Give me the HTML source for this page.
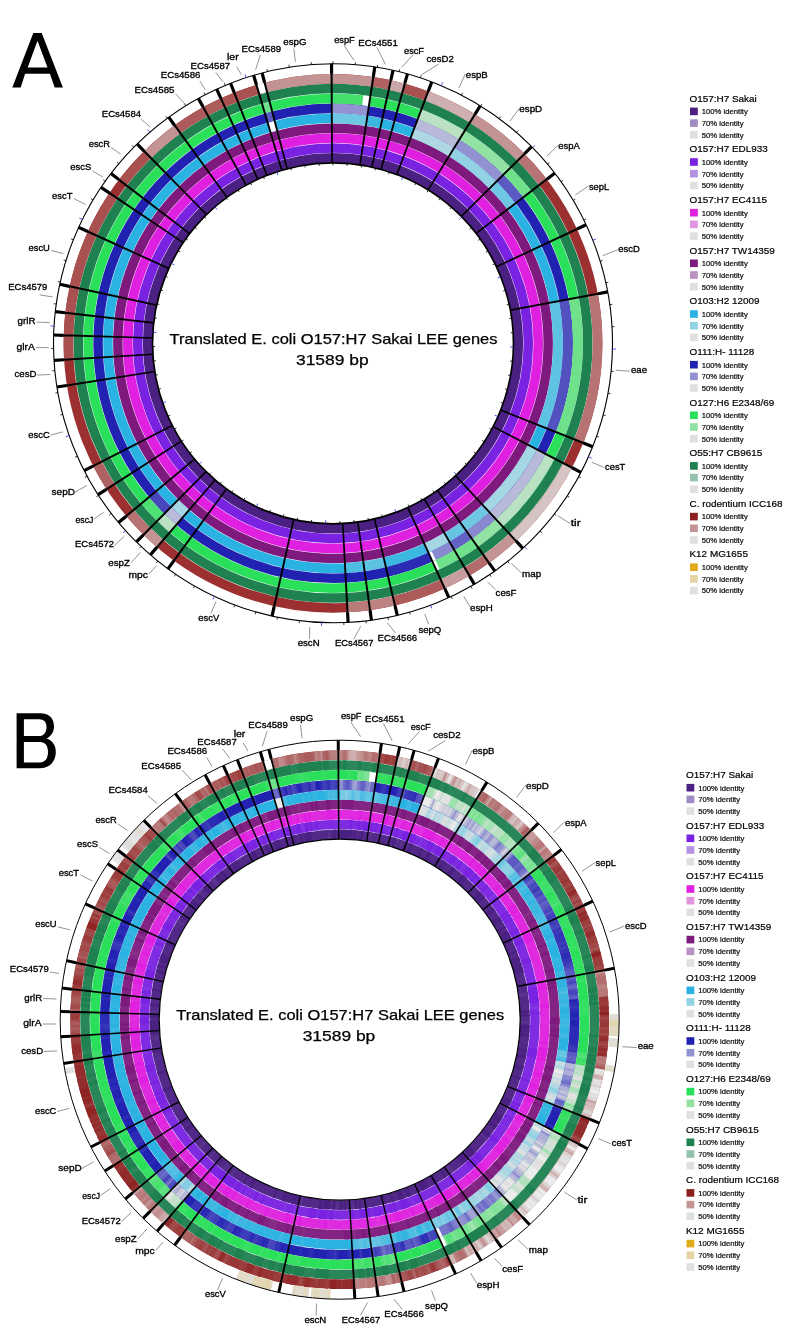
<!DOCTYPE html>
<html><head><meta charset="utf-8"><title>BRIG LEE comparison</title>
<style>
html,body{margin:0;padding:0;background:#fff;}
body{width:785px;height:1337px;overflow:hidden;}
svg{display:block;filter:blur(0.3px);}
text{font-family:"Liberation Sans",sans-serif;fill:#000;}
.li{fill:#111;stroke:#111;stroke-width:0.22px;}
.lt{stroke:#000;stroke-width:0.2px;}
.gl{stroke:#000;stroke-width:0.32px;}
.ct{stroke:#000;stroke-width:0.25px;}
</style></head><body>
<svg width="785" height="1337" viewBox="0 0 785 1337">
<rect width="785" height="1337" fill="#fff"/>
<path fill-rule="evenodd" d="M12.3,87.5L33.3,33.06L41.7,33.06L62.9,87.5L54.7,87.5L49.9,73.7L25.1,73.7L20.7,87.5ZM27.7,67.45L37.5,40.7L47.5,67.45Z" fill="#000"/>
<circle cx="333.00" cy="343.30" r="185.45" fill="none" stroke="#4b2083" stroke-width="9.48"/>
<circle cx="333.00" cy="343.30" r="195.35" fill="none" stroke="#7a22e2" stroke-width="9.48"/>
<circle cx="333.00" cy="343.30" r="205.25" fill="none" stroke="#e020e0" stroke-width="9.48"/>
<circle cx="333.00" cy="343.30" r="215.15" fill="none" stroke="#7e1a7e" stroke-width="9.48"/>
<circle cx="333.00" cy="343.30" r="225.05" fill="none" stroke="#2ab2e2" stroke-width="9.48"/>
<circle cx="333.00" cy="343.30" r="225.05" fill="none" stroke="#6fc7e3" stroke-width="9.48" pathLength="360" stroke-dasharray="0 0.00 9.02 36.58 7.32 84.58 7.52 214.98 0" transform="rotate(-90.30 333.00 343.30)"/>
<circle cx="333.00" cy="343.30" r="225.05" fill="none" stroke="#3bb7e2" stroke-width="9.48" pathLength="360" stroke-dasharray="0 8.90 3.92 142.98 11.32 192.88 0" transform="rotate(-90.30 333.00 343.30)"/>
<circle cx="333.00" cy="343.30" r="225.05" fill="none" stroke="#afd7e2" stroke-width="9.48" pathLength="360" stroke-dasharray="0 21.00 11.22 327.78 0" transform="rotate(-90.30 333.00 343.30)"/>
<circle cx="333.00" cy="343.30" r="225.05" fill="none" stroke="#92d2e4" stroke-width="9.48" pathLength="360" stroke-dasharray="0 32.10 13.62 314.28 0" transform="rotate(-90.30 333.00 343.30)"/>
<circle cx="333.00" cy="343.30" r="225.05" fill="none" stroke="#5ec2e3" stroke-width="9.48" pathLength="360" stroke-dasharray="0 79.70 32.42 54.88 5.52 187.48 0" transform="rotate(-90.30 333.00 343.30)"/>
<circle cx="333.00" cy="343.30" r="225.05" fill="none" stroke="#a5d6e3" stroke-width="9.48" pathLength="360" stroke-dasharray="0 117.80 19.82 12.28 6.02 65.18 4.02 134.88 0" transform="rotate(-90.30 333.00 343.30)"/>
<circle cx="333.00" cy="343.30" r="225.05" fill="none" stroke="#67c5e3" stroke-width="9.48" pathLength="360" stroke-dasharray="0 144.90 5.12 209.98 0" transform="rotate(-90.30 333.00 343.30)"/>
<circle cx="333.00" cy="343.30" r="225.05" fill="none" stroke="#4dbde3" stroke-width="9.48" pathLength="360" stroke-dasharray="0 172.40 4.92 182.68 0" transform="rotate(-90.30 333.00 343.30)"/>
<circle cx="333.00" cy="343.30" r="225.05" fill="none" stroke="#ffffff" stroke-width="9.48" pathLength="360" stroke-dasharray="0 343.80 1.92 14.28 0" transform="rotate(-90.30 333.00 343.30)"/>
<circle cx="333.00" cy="343.30" r="234.95" fill="none" stroke="#2222b2" stroke-width="9.48"/>
<circle cx="333.00" cy="343.30" r="234.95" fill="none" stroke="#9292d2" stroke-width="9.48" pathLength="360" stroke-dasharray="0 0.00 9.02 23.08 13.62 314.28 0" transform="rotate(-90.30 333.00 343.30)"/>
<circle cx="333.00" cy="343.30" r="234.95" fill="none" stroke="#b9b9d9" stroke-width="9.48" pathLength="360" stroke-dasharray="0 21.00 11.22 85.58 19.82 83.48 4.02 134.88 0" transform="rotate(-90.30 333.00 343.30)"/>
<circle cx="333.00" cy="343.30" r="234.95" fill="none" stroke="#5a5ac2" stroke-width="9.48" pathLength="360" stroke-dasharray="0 45.60 7.32 290.88 1.92 14.28 0" transform="rotate(-90.30 333.00 343.30)"/>
<circle cx="333.00" cy="343.30" r="234.95" fill="none" stroke="#5151bf" stroke-width="9.48" pathLength="360" stroke-dasharray="0 79.70 32.42 247.88 0" transform="rotate(-90.30 333.00 343.30)"/>
<circle cx="333.00" cy="343.30" r="234.95" fill="none" stroke="#8989cf" stroke-width="9.48" pathLength="360" stroke-dasharray="0 137.50 7.52 4.88 5.12 204.98 0" transform="rotate(-90.30 333.00 343.30)"/>
<circle cx="333.00" cy="343.30" r="234.95" fill="none" stroke="#6363c5" stroke-width="9.48" pathLength="360" stroke-dasharray="0 144.90 5.12 209.98 0" transform="rotate(-90.30 333.00 343.30)"/>
<circle cx="333.00" cy="343.30" r="234.95" fill="none" stroke="#ffffff" stroke-width="9.48" pathLength="360" stroke-dasharray="0 154.90 1.02 204.08 0" transform="rotate(-90.30 333.00 343.30)"/>
<circle cx="333.00" cy="343.30" r="234.95" fill="none" stroke="#2b2bb5" stroke-width="9.48" pathLength="360" stroke-dasharray="0 155.80 11.32 192.88 0" transform="rotate(-90.30 333.00 343.30)"/>
<circle cx="333.00" cy="343.30" r="234.95" fill="none" stroke="#4747bd" stroke-width="9.48" pathLength="360" stroke-dasharray="0 225.00 5.52 129.48 0" transform="rotate(-90.30 333.00 343.30)"/>
<circle cx="333.00" cy="343.30" r="244.85" fill="none" stroke="#2ae05a" stroke-width="9.48"/>
<circle cx="333.00" cy="343.30" r="244.85" fill="none" stroke="#44e06c" stroke-width="9.48" pathLength="360" stroke-dasharray="0 0.00 7.42 352.58 0" transform="rotate(-90.30 333.00 343.30)"/>
<circle cx="333.00" cy="343.30" r="244.85" fill="none" stroke="#ffffff" stroke-width="9.48" pathLength="360" stroke-dasharray="0 7.30 1.72 145.88 1.02 204.08 0" transform="rotate(-90.30 333.00 343.30)"/>
<circle cx="333.00" cy="343.30" r="244.85" fill="none" stroke="#b9e1c2" stroke-width="9.48" pathLength="360" stroke-dasharray="0 21.00 11.22 85.58 19.82 83.48 4.02 134.88 0" transform="rotate(-90.30 333.00 343.30)"/>
<circle cx="333.00" cy="343.30" r="244.85" fill="none" stroke="#92e2a4" stroke-width="9.48" pathLength="360" stroke-dasharray="0 32.10 13.62 91.78 7.52 214.98 0" transform="rotate(-90.30 333.00 343.30)"/>
<circle cx="333.00" cy="343.30" r="244.85" fill="none" stroke="#6fe18b" stroke-width="9.48" pathLength="360" stroke-dasharray="0 45.60 7.32 26.78 32.42 32.78 10.12 188.78 1.92 14.28 0" transform="rotate(-90.30 333.00 343.30)"/>
<circle cx="333.00" cy="343.30" r="244.85" fill="none" stroke="#4de173" stroke-width="9.48" pathLength="360" stroke-dasharray="0 225.00 5.52 129.48 0" transform="rotate(-90.30 333.00 343.30)"/>
<circle cx="333.00" cy="343.30" r="254.75" fill="none" stroke="#1f8050" stroke-width="9.48"/>
<circle cx="333.00" cy="343.30" r="264.65" fill="none" stroke="#9c3030" stroke-width="9.48"/>
<circle cx="333.00" cy="343.30" r="264.65" fill="none" stroke="#c49494" stroke-width="9.48" pathLength="360" stroke-dasharray="0 0.00 9.02 23.08 13.62 91.78 7.52 76.08 4.02 90.68 8.62 21.18 14.52 0.01 0" transform="rotate(-90.30 333.00 343.30)"/>
<circle cx="333.00" cy="343.30" r="264.65" fill="none" stroke="#b06262" stroke-width="9.48" pathLength="360" stroke-dasharray="0 8.90 3.92 224.68 5.82 116.68 0" transform="rotate(-90.30 333.00 343.30)"/>
<circle cx="333.00" cy="343.30" r="264.65" fill="none" stroke="#cba7a7" stroke-width="9.48" pathLength="360" stroke-dasharray="0 12.70 3.17 344.13 0" transform="rotate(-90.30 333.00 343.30)"/>
<circle cx="333.00" cy="343.30" r="264.65" fill="none" stroke="#a95151" stroke-width="9.48" pathLength="360" stroke-dasharray="0 15.75 5.37 245.68 37.52 3.38 8.22 19.78 8.22 16.08 0" transform="rotate(-90.30 333.00 343.30)"/>
<circle cx="333.00" cy="343.30" r="264.65" fill="none" stroke="#ceb0b0" stroke-width="9.48" pathLength="360" stroke-dasharray="0 21.00 11.22 327.78 0" transform="rotate(-90.30 333.00 343.30)"/>
<circle cx="333.00" cy="343.30" r="264.65" fill="none" stroke="#b77373" stroke-width="9.48" pathLength="360" stroke-dasharray="0 45.60 7.32 26.78 32.42 112.88 5.52 129.48 0" transform="rotate(-90.30 333.00 343.30)"/>
<circle cx="333.00" cy="343.30" r="264.65" fill="none" stroke="#d6c4c4" stroke-width="9.48" pathLength="360" stroke-dasharray="0 117.80 19.82 222.38 0" transform="rotate(-90.30 333.00 343.30)"/>
<circle cx="333.00" cy="343.30" r="264.65" fill="none" stroke="#b36a6a" stroke-width="9.48" pathLength="360" stroke-dasharray="0 144.90 5.12 209.98 0" transform="rotate(-90.30 333.00 343.30)"/>
<circle cx="333.00" cy="343.30" r="264.65" fill="none" stroke="#c89d9d" stroke-width="9.48" pathLength="360" stroke-dasharray="0 149.90 6.02 204.08 0" transform="rotate(-90.30 333.00 343.30)"/>
<circle cx="333.00" cy="343.30" r="264.65" fill="none" stroke="#ad5a5a" stroke-width="9.48" pathLength="360" stroke-dasharray="0 155.80 11.32 157.18 11.52 24.18 0" transform="rotate(-90.30 333.00 343.30)"/>
<circle cx="333.00" cy="343.30" r="264.65" fill="none" stroke="#bd8383" stroke-width="9.48" pathLength="360" stroke-dasharray="0 167.00 5.52 187.48 0" transform="rotate(-90.30 333.00 343.30)"/>
<circle cx="333.00" cy="343.30" r="264.65" fill="none" stroke="#ba7b7b" stroke-width="9.48" pathLength="360" stroke-dasharray="0 172.40 4.92 182.68 0" transform="rotate(-90.30 333.00 343.30)"/>
<circle cx="333.00" cy="343.30" r="264.65" fill="none" stroke="#ffffff" stroke-width="9.48" pathLength="360" stroke-dasharray="0 343.80 1.92 14.28 0" transform="rotate(-90.30 333.00 343.30)"/>
<path d="M330.54,73.71L332.64,73.70L332.85,162.80L331.25,162.81ZM329.94,63.82L333.14,63.80L333.19,73.70L329.99,73.72ZM372.28,76.58L374.35,76.89L360.78,164.95L359.20,164.71ZM373.21,66.71L376.38,67.19L374.90,76.98L371.73,76.50ZM389.87,79.77L391.92,80.22L372.54,167.18L370.98,166.84ZM391.45,69.98L394.58,70.67L392.45,80.34L389.33,79.65ZM403.81,83.16L405.83,83.72L381.86,169.54L380.31,169.11ZM405.91,73.48L409.00,74.33L406.36,83.87L403.28,83.02ZM427.31,90.74L429.28,91.48L397.55,174.74L396.05,174.17ZM430.30,81.28L433.29,82.41L429.79,91.67L426.80,90.54ZM474.17,113.62L475.96,114.72L428.79,190.32L427.43,189.47ZM478.92,104.92L481.64,106.60L476.42,115.02L473.70,113.33ZM523.89,152.92L525.37,154.41L461.86,216.91L460.74,215.77ZM530.54,145.57L532.79,147.84L525.75,154.81L523.50,152.53ZM546.25,178.35L547.53,180.01L476.69,234.05L475.71,232.78ZM553.76,171.88L555.71,174.42L547.86,180.45L545.91,177.91ZM576.69,227.99L577.58,229.89L496.79,267.46L496.11,266.01ZM585.42,223.29L586.78,226.19L577.82,230.39L576.46,227.49ZM597.80,292.68L598.19,294.74L510.57,310.88L510.27,309.31ZM607.43,290.31L608.02,293.46L598.29,295.28L597.70,292.13ZM583.88,442.01L583.10,443.96L500.41,410.78L501.00,409.30ZM593.28,445.16L592.10,448.13L582.90,444.47L584.08,441.50ZM572.62,466.86L571.65,468.72L492.73,427.35L493.47,425.94ZM581.65,470.94L580.18,473.78L571.40,469.20L572.87,466.37ZM516.95,540.40L515.41,541.83L455.05,476.28L456.22,475.19ZM524.07,547.29L521.73,549.46L515.00,542.20L517.35,540.02ZM490.03,562.45L488.32,563.67L436.91,490.89L438.21,489.97ZM496.21,570.20L493.60,572.05L487.87,563.98L490.48,562.13ZM470.33,575.30L468.52,576.36L423.65,499.39L425.03,498.58ZM475.81,583.56L473.05,585.18L468.04,576.64L470.80,575.02ZM445.76,588.19L443.84,589.06L407.12,507.88L408.58,507.21ZM450.36,596.97L447.45,598.29L443.34,589.28L446.26,587.96ZM396.04,605.43L394.00,605.91L373.75,519.14L375.30,518.77ZM398.85,614.93L395.74,615.67L393.46,606.03L396.58,605.30ZM371.09,610.20L369.01,610.48L357.02,522.20L358.60,521.98ZM373.00,619.92L369.83,620.36L368.47,610.56L371.64,610.12ZM348.63,612.45L346.53,612.56L341.96,523.58L343.56,523.49ZM349.71,622.30L346.52,622.47L345.98,612.59L349.18,612.41ZM275.21,606.63L273.16,606.18L292.84,519.28L294.41,519.63ZM273.59,616.41L270.47,615.72L272.63,606.05L275.75,606.75ZM174.62,561.47L172.93,560.23L225.75,488.48L227.04,489.43ZM169.22,569.79L166.64,567.90L172.48,559.91L175.07,561.80ZM157.63,548.07L156.04,546.70L214.45,479.41L215.66,480.46ZM151.58,555.92L149.16,553.83L155.63,546.34L158.05,548.43ZM144.11,535.67L142.62,534.19L205.47,471.04L206.61,472.16ZM137.54,543.09L135.27,540.84L142.23,533.80L144.51,536.05ZM126.85,517.04L125.50,515.43L194.01,458.47L195.04,459.69ZM119.61,523.81L117.55,521.35L125.15,515.00L127.20,517.46ZM106.95,490.23L105.82,488.46L180.85,440.40L181.71,441.75ZM98.93,496.05L97.20,493.36L105.52,488.00L107.25,490.69ZM93.48,467.05L92.52,465.18L171.95,424.81L172.68,426.24ZM84.92,472.05L83.46,469.20L92.27,464.69L93.73,467.54ZM66.89,386.51L66.56,384.44L154.60,370.75L154.85,372.33ZM57.20,388.60L56.70,385.44L66.47,383.89L66.97,387.05ZM63.97,360.81L63.84,358.71L152.79,353.52L152.89,355.12ZM54.12,361.96L53.93,358.77L63.81,358.16L64.01,361.36ZM63.49,336.35L63.55,334.25L152.60,337.15L152.56,338.74ZM53.58,336.61L53.68,333.41L63.57,333.70L63.48,336.90ZM65.02,313.82L65.25,311.74L153.75,322.07L153.57,323.66ZM55.12,313.25L55.48,310.07L65.32,311.19L64.96,314.37ZM69.27,287.35L69.71,285.30L156.75,304.37L156.41,305.94ZM59.48,285.80L60.15,282.67L69.83,284.76L69.16,287.89ZM87.24,232.46L88.11,230.54L169.09,267.72L168.42,269.18ZM78.01,228.85L79.33,225.94L88.34,230.04L87.02,232.96ZM108.64,193.80L109.82,192.06L183.63,241.96L182.74,243.29ZM100.12,188.74L101.91,186.08L110.13,191.61L108.34,194.26ZM118.19,180.39L119.47,178.72L190.10,233.03L189.12,234.31ZM109.99,174.81L111.94,172.27L119.80,178.28L117.86,180.83ZM143.29,151.75L144.79,150.27L207.06,214.00L205.92,215.12ZM135.96,145.07L138.24,142.83L145.18,149.89L142.90,152.13ZM173.68,125.81L175.38,124.57L227.55,196.80L226.26,197.74ZM167.42,118.12L170.01,116.24L175.83,124.25L173.24,126.13ZM202.20,107.56L204.04,106.54L246.75,184.74L245.34,185.51ZM196.95,99.15L199.75,97.61L204.52,106.28L201.72,107.82ZM219.82,98.61L221.73,97.73L258.59,178.85L257.13,179.52ZM215.20,89.84L218.11,88.51L222.23,97.51L219.32,98.84ZM233.22,92.85L235.17,92.08L267.59,175.07L266.10,175.65ZM229.08,83.84L232.05,82.67L235.68,91.88L232.70,93.05ZM255.42,85.10L257.44,84.51L282.50,170.01L280.97,170.46ZM252.08,75.77L255.15,74.86L257.96,84.35L254.90,85.26ZM263.57,82.79L265.60,82.26L287.97,168.51L286.42,168.91ZM260.53,73.36L263.62,72.55L266.14,82.12L263.04,82.94Z" fill="#000"/>
<circle cx="333.00" cy="343.30" r="279.50" fill="none" stroke="#000" stroke-width="1.10"/>
<circle cx="333.00" cy="343.30" r="180.50" fill="none" stroke="#000" stroke-width="1.70"/>
<line x1="333.00" y1="63.80" x2="333.00" y2="61.30" stroke="#000" stroke-width="0.8"/>
<line x1="333.00" y1="162.80" x2="333.00" y2="165.30" stroke="#000" stroke-width="0.8"/>
<line x1="355.21" y1="64.68" x2="355.41" y2="62.19" stroke="#000" stroke-width="0.8"/>
<line x1="347.35" y1="163.37" x2="347.15" y2="165.86" stroke="#000" stroke-width="0.8"/>
<line x1="377.29" y1="67.33" x2="377.68" y2="64.86" stroke="#000" stroke-width="0.8"/>
<line x1="361.60" y1="165.08" x2="361.20" y2="167.55" stroke="#000" stroke-width="0.8"/>
<line x1="399.08" y1="71.72" x2="399.67" y2="69.29" stroke="#000" stroke-width="0.8"/>
<line x1="375.67" y1="167.92" x2="375.08" y2="170.35" stroke="#000" stroke-width="0.8"/>
<line x1="420.46" y1="77.83" x2="421.24" y2="75.46" stroke="#000" stroke-width="0.8"/>
<line x1="389.48" y1="171.86" x2="388.70" y2="174.24" stroke="#000" stroke-width="0.8"/>
<line x1="441.28" y1="85.63" x2="442.63" y2="82.40" stroke="#2a2adc" stroke-width="0.8"/>
<line x1="402.93" y1="176.89" x2="401.57" y2="180.12" stroke="#2a2adc" stroke-width="0.8"/>
<line x1="461.41" y1="95.05" x2="462.56" y2="92.83" stroke="#000" stroke-width="0.8"/>
<line x1="415.93" y1="182.98" x2="414.78" y2="185.20" stroke="#000" stroke-width="0.8"/>
<line x1="480.74" y1="106.04" x2="482.06" y2="103.92" stroke="#000" stroke-width="0.8"/>
<line x1="428.41" y1="190.08" x2="427.09" y2="192.20" stroke="#000" stroke-width="0.8"/>
<line x1="499.13" y1="118.53" x2="500.61" y2="116.52" stroke="#000" stroke-width="0.8"/>
<line x1="440.29" y1="198.14" x2="438.80" y2="200.16" stroke="#000" stroke-width="0.8"/>
<line x1="516.47" y1="132.44" x2="518.11" y2="130.56" stroke="#000" stroke-width="0.8"/>
<line x1="451.48" y1="207.13" x2="449.84" y2="209.02" stroke="#000" stroke-width="0.8"/>
<line x1="532.65" y1="147.69" x2="535.15" y2="145.24" stroke="#2a2adc" stroke-width="0.8"/>
<line x1="461.93" y1="216.98" x2="459.43" y2="219.43" stroke="#2a2adc" stroke-width="0.8"/>
<line x1="547.56" y1="164.18" x2="549.48" y2="162.58" stroke="#000" stroke-width="0.8"/>
<line x1="471.56" y1="227.62" x2="469.64" y2="229.23" stroke="#000" stroke-width="0.8"/>
<line x1="561.12" y1="181.80" x2="563.16" y2="180.35" stroke="#000" stroke-width="0.8"/>
<line x1="480.32" y1="239.00" x2="478.28" y2="240.45" stroke="#000" stroke-width="0.8"/>
<line x1="573.23" y1="200.44" x2="575.38" y2="199.16" stroke="#000" stroke-width="0.8"/>
<line x1="488.14" y1="251.04" x2="485.99" y2="252.32" stroke="#000" stroke-width="0.8"/>
<line x1="583.83" y1="219.99" x2="586.07" y2="218.88" stroke="#000" stroke-width="0.8"/>
<line x1="494.98" y1="263.66" x2="492.74" y2="264.77" stroke="#000" stroke-width="0.8"/>
<line x1="592.83" y1="240.31" x2="596.09" y2="239.02" stroke="#2a2adc" stroke-width="0.8"/>
<line x1="500.80" y1="276.79" x2="497.55" y2="278.08" stroke="#2a2adc" stroke-width="0.8"/>
<line x1="600.20" y1="261.29" x2="602.59" y2="260.55" stroke="#000" stroke-width="0.8"/>
<line x1="505.55" y1="290.34" x2="503.16" y2="291.07" stroke="#000" stroke-width="0.8"/>
<line x1="605.87" y1="282.78" x2="608.31" y2="282.24" stroke="#000" stroke-width="0.8"/>
<line x1="509.22" y1="304.22" x2="506.78" y2="304.76" stroke="#000" stroke-width="0.8"/>
<line x1="609.82" y1="304.66" x2="612.29" y2="304.32" stroke="#000" stroke-width="0.8"/>
<line x1="511.77" y1="318.35" x2="509.29" y2="318.69" stroke="#000" stroke-width="0.8"/>
<line x1="612.01" y1="326.78" x2="614.51" y2="326.64" stroke="#000" stroke-width="0.8"/>
<line x1="513.18" y1="332.63" x2="510.69" y2="332.78" stroke="#000" stroke-width="0.8"/>
<line x1="612.44" y1="349.01" x2="615.94" y2="349.08" stroke="#2a2adc" stroke-width="0.8"/>
<line x1="513.46" y1="346.99" x2="509.96" y2="346.92" stroke="#2a2adc" stroke-width="0.8"/>
<line x1="611.10" y1="371.20" x2="613.59" y2="371.45" stroke="#000" stroke-width="0.8"/>
<line x1="512.60" y1="361.32" x2="510.11" y2="361.07" stroke="#000" stroke-width="0.8"/>
<line x1="608.01" y1="393.22" x2="610.47" y2="393.66" stroke="#000" stroke-width="0.8"/>
<line x1="510.60" y1="375.54" x2="508.14" y2="375.09" stroke="#000" stroke-width="0.8"/>
<line x1="603.17" y1="414.92" x2="605.59" y2="415.56" stroke="#000" stroke-width="0.8"/>
<line x1="507.47" y1="389.55" x2="505.06" y2="388.91" stroke="#000" stroke-width="0.8"/>
<line x1="596.62" y1="436.16" x2="598.98" y2="436.99" stroke="#000" stroke-width="0.8"/>
<line x1="503.25" y1="403.27" x2="500.89" y2="402.44" stroke="#000" stroke-width="0.8"/>
<line x1="588.41" y1="456.82" x2="591.61" y2="458.24" stroke="#2a2adc" stroke-width="0.8"/>
<line x1="497.94" y1="416.61" x2="494.74" y2="415.19" stroke="#2a2adc" stroke-width="0.8"/>
<line x1="578.58" y1="476.76" x2="580.77" y2="477.96" stroke="#000" stroke-width="0.8"/>
<line x1="491.59" y1="429.49" x2="489.40" y2="428.30" stroke="#000" stroke-width="0.8"/>
<line x1="567.19" y1="495.86" x2="569.29" y2="497.22" stroke="#000" stroke-width="0.8"/>
<line x1="484.24" y1="441.82" x2="482.15" y2="440.46" stroke="#000" stroke-width="0.8"/>
<line x1="554.33" y1="513.99" x2="556.31" y2="515.51" stroke="#000" stroke-width="0.8"/>
<line x1="475.93" y1="453.53" x2="473.95" y2="452.00" stroke="#000" stroke-width="0.8"/>
<line x1="540.06" y1="531.04" x2="541.91" y2="532.72" stroke="#000" stroke-width="0.8"/>
<line x1="466.72" y1="464.54" x2="464.87" y2="462.86" stroke="#000" stroke-width="0.8"/>
<line x1="524.49" y1="546.90" x2="526.88" y2="549.45" stroke="#2a2adc" stroke-width="0.8"/>
<line x1="456.66" y1="474.78" x2="454.26" y2="472.24" stroke="#2a2adc" stroke-width="0.8"/>
<line x1="507.70" y1="561.48" x2="509.26" y2="563.43" stroke="#000" stroke-width="0.8"/>
<line x1="445.82" y1="484.20" x2="444.26" y2="482.25" stroke="#000" stroke-width="0.8"/>
<line x1="489.81" y1="574.67" x2="491.21" y2="576.74" stroke="#000" stroke-width="0.8"/>
<line x1="434.26" y1="492.72" x2="432.86" y2="490.65" stroke="#000" stroke-width="0.8"/>
<line x1="470.92" y1="586.40" x2="472.15" y2="588.58" stroke="#000" stroke-width="0.8"/>
<line x1="422.07" y1="500.29" x2="420.83" y2="498.12" stroke="#000" stroke-width="0.8"/>
<line x1="451.16" y1="596.59" x2="452.22" y2="598.86" stroke="#000" stroke-width="0.8"/>
<line x1="409.31" y1="506.88" x2="408.25" y2="504.61" stroke="#000" stroke-width="0.8"/>
<line x1="430.66" y1="605.18" x2="431.88" y2="608.46" stroke="#2a2adc" stroke-width="0.8"/>
<line x1="396.07" y1="512.42" x2="394.84" y2="509.14" stroke="#2a2adc" stroke-width="0.8"/>
<line x1="409.54" y1="612.12" x2="410.22" y2="614.52" stroke="#000" stroke-width="0.8"/>
<line x1="382.43" y1="516.90" x2="381.74" y2="514.50" stroke="#000" stroke-width="0.8"/>
<line x1="387.93" y1="617.35" x2="388.42" y2="619.80" stroke="#000" stroke-width="0.8"/>
<line x1="368.47" y1="520.28" x2="367.98" y2="517.83" stroke="#000" stroke-width="0.8"/>
<line x1="365.97" y1="620.85" x2="366.27" y2="623.33" stroke="#000" stroke-width="0.8"/>
<line x1="354.29" y1="522.54" x2="354.00" y2="520.06" stroke="#000" stroke-width="0.8"/>
<line x1="343.81" y1="622.59" x2="343.91" y2="625.09" stroke="#000" stroke-width="0.8"/>
<line x1="339.98" y1="523.66" x2="339.88" y2="521.17" stroke="#000" stroke-width="0.8"/>
<line x1="321.58" y1="622.57" x2="321.44" y2="626.06" stroke="#2a2adc" stroke-width="0.8"/>
<line x1="325.62" y1="523.65" x2="325.77" y2="520.15" stroke="#2a2adc" stroke-width="0.8"/>
<line x1="299.42" y1="620.78" x2="299.12" y2="623.26" stroke="#000" stroke-width="0.8"/>
<line x1="311.31" y1="522.49" x2="311.61" y2="520.01" stroke="#000" stroke-width="0.8"/>
<line x1="277.47" y1="617.23" x2="276.98" y2="619.68" stroke="#000" stroke-width="0.8"/>
<line x1="297.14" y1="520.20" x2="297.64" y2="517.75" stroke="#000" stroke-width="0.8"/>
<line x1="255.88" y1="611.95" x2="255.19" y2="614.35" stroke="#000" stroke-width="0.8"/>
<line x1="283.19" y1="516.79" x2="283.88" y2="514.39" stroke="#000" stroke-width="0.8"/>
<line x1="234.77" y1="604.97" x2="233.89" y2="607.31" stroke="#000" stroke-width="0.8"/>
<line x1="269.56" y1="512.29" x2="270.44" y2="509.94" stroke="#000" stroke-width="0.8"/>
<line x1="214.28" y1="596.33" x2="212.80" y2="599.50" stroke="#2a2adc" stroke-width="0.8"/>
<line x1="256.33" y1="506.71" x2="257.82" y2="503.54" stroke="#2a2adc" stroke-width="0.8"/>
<line x1="194.55" y1="586.10" x2="193.31" y2="588.27" stroke="#000" stroke-width="0.8"/>
<line x1="243.59" y1="500.10" x2="244.83" y2="497.93" stroke="#000" stroke-width="0.8"/>
<line x1="175.69" y1="574.33" x2="174.28" y2="576.39" stroke="#000" stroke-width="0.8"/>
<line x1="231.41" y1="492.50" x2="232.82" y2="490.43" stroke="#000" stroke-width="0.8"/>
<line x1="157.82" y1="561.09" x2="156.26" y2="563.04" stroke="#000" stroke-width="0.8"/>
<line x1="219.87" y1="483.95" x2="221.44" y2="482.00" stroke="#000" stroke-width="0.8"/>
<line x1="141.07" y1="546.48" x2="139.35" y2="548.30" stroke="#000" stroke-width="0.8"/>
<line x1="209.05" y1="474.51" x2="210.77" y2="472.70" stroke="#000" stroke-width="0.8"/>
<line x1="125.53" y1="530.58" x2="122.93" y2="532.93" stroke="#2a2adc" stroke-width="0.8"/>
<line x1="199.02" y1="464.25" x2="201.61" y2="461.90" stroke="#2a2adc" stroke-width="0.8"/>
<line x1="111.30" y1="513.50" x2="109.32" y2="515.03" stroke="#000" stroke-width="0.8"/>
<line x1="189.83" y1="453.22" x2="191.81" y2="451.69" stroke="#000" stroke-width="0.8"/>
<line x1="98.47" y1="495.34" x2="96.38" y2="496.70" stroke="#000" stroke-width="0.8"/>
<line x1="181.54" y1="441.49" x2="183.64" y2="440.13" stroke="#000" stroke-width="0.8"/>
<line x1="87.13" y1="476.22" x2="84.93" y2="477.41" stroke="#000" stroke-width="0.8"/>
<line x1="174.22" y1="429.14" x2="176.42" y2="427.95" stroke="#000" stroke-width="0.8"/>
<line x1="77.34" y1="456.26" x2="75.06" y2="457.27" stroke="#000" stroke-width="0.8"/>
<line x1="167.90" y1="416.25" x2="170.19" y2="415.24" stroke="#000" stroke-width="0.8"/>
<line x1="69.18" y1="435.59" x2="65.87" y2="436.74" stroke="#2a2adc" stroke-width="0.8"/>
<line x1="162.62" y1="402.90" x2="165.93" y2="401.74" stroke="#2a2adc" stroke-width="0.8"/>
<line x1="62.68" y1="414.33" x2="60.26" y2="414.96" stroke="#000" stroke-width="0.8"/>
<line x1="158.43" y1="389.17" x2="160.84" y2="388.53" stroke="#000" stroke-width="0.8"/>
<line x1="57.89" y1="392.62" x2="55.42" y2="393.06" stroke="#000" stroke-width="0.8"/>
<line x1="155.33" y1="375.15" x2="157.79" y2="374.71" stroke="#000" stroke-width="0.8"/>
<line x1="54.84" y1="370.59" x2="52.35" y2="370.84" stroke="#000" stroke-width="0.8"/>
<line x1="153.36" y1="360.93" x2="155.85" y2="360.68" stroke="#000" stroke-width="0.8"/>
<line x1="53.55" y1="348.40" x2="51.05" y2="348.45" stroke="#000" stroke-width="0.8"/>
<line x1="152.53" y1="346.59" x2="155.03" y2="346.55" stroke="#000" stroke-width="0.8"/>
<line x1="54.03" y1="326.17" x2="50.53" y2="325.96" stroke="#2a2adc" stroke-width="0.8"/>
<line x1="152.84" y1="332.24" x2="156.33" y2="332.45" stroke="#2a2adc" stroke-width="0.8"/>
<line x1="56.27" y1="304.06" x2="53.79" y2="303.70" stroke="#000" stroke-width="0.8"/>
<line x1="154.29" y1="317.96" x2="156.76" y2="318.31" stroke="#000" stroke-width="0.8"/>
<line x1="60.26" y1="282.19" x2="57.82" y2="281.64" stroke="#000" stroke-width="0.8"/>
<line x1="156.87" y1="303.83" x2="159.31" y2="304.38" stroke="#000" stroke-width="0.8"/>
<line x1="65.98" y1="260.70" x2="63.59" y2="259.96" stroke="#000" stroke-width="0.8"/>
<line x1="160.56" y1="289.96" x2="162.95" y2="290.70" stroke="#000" stroke-width="0.8"/>
<line x1="73.39" y1="239.74" x2="71.07" y2="238.82" stroke="#000" stroke-width="0.8"/>
<line x1="165.35" y1="276.42" x2="167.67" y2="277.35" stroke="#000" stroke-width="0.8"/>
<line x1="82.44" y1="219.44" x2="79.31" y2="217.89" stroke="#2a2adc" stroke-width="0.8"/>
<line x1="171.19" y1="263.31" x2="174.33" y2="264.86" stroke="#2a2adc" stroke-width="0.8"/>
<line x1="93.08" y1="199.91" x2="90.94" y2="198.63" stroke="#000" stroke-width="0.8"/>
<line x1="178.06" y1="250.70" x2="180.21" y2="251.99" stroke="#000" stroke-width="0.8"/>
<line x1="105.24" y1="181.30" x2="103.20" y2="179.85" stroke="#000" stroke-width="0.8"/>
<line x1="185.91" y1="238.68" x2="187.95" y2="240.13" stroke="#000" stroke-width="0.8"/>
<line x1="118.83" y1="163.71" x2="116.92" y2="162.10" stroke="#000" stroke-width="0.8"/>
<line x1="194.69" y1="227.32" x2="196.61" y2="228.93" stroke="#000" stroke-width="0.8"/>
<line x1="133.78" y1="147.26" x2="132.00" y2="145.50" stroke="#000" stroke-width="0.8"/>
<line x1="204.35" y1="216.70" x2="206.13" y2="218.45" stroke="#000" stroke-width="0.8"/>
<line x1="149.99" y1="132.04" x2="147.70" y2="129.40" stroke="#2a2adc" stroke-width="0.8"/>
<line x1="214.82" y1="206.87" x2="217.11" y2="209.52" stroke="#2a2adc" stroke-width="0.8"/>
<line x1="167.36" y1="118.17" x2="165.88" y2="116.15" stroke="#000" stroke-width="0.8"/>
<line x1="226.03" y1="197.91" x2="227.51" y2="199.92" stroke="#000" stroke-width="0.8"/>
<line x1="185.78" y1="105.72" x2="184.46" y2="103.59" stroke="#000" stroke-width="0.8"/>
<line x1="237.93" y1="189.87" x2="239.24" y2="191.99" stroke="#000" stroke-width="0.8"/>
<line x1="205.13" y1="94.77" x2="203.98" y2="92.54" stroke="#000" stroke-width="0.8"/>
<line x1="250.42" y1="182.80" x2="251.56" y2="185.02" stroke="#000" stroke-width="0.8"/>
<line x1="225.29" y1="85.39" x2="224.32" y2="83.08" stroke="#000" stroke-width="0.8"/>
<line x1="263.44" y1="176.74" x2="264.40" y2="179.05" stroke="#000" stroke-width="0.8"/>
<line x1="246.12" y1="77.64" x2="245.04" y2="74.32" stroke="#2a2adc" stroke-width="0.8"/>
<line x1="276.90" y1="171.74" x2="277.98" y2="175.07" stroke="#2a2adc" stroke-width="0.8"/>
<line x1="267.51" y1="71.58" x2="266.93" y2="69.15" stroke="#000" stroke-width="0.8"/>
<line x1="290.71" y1="167.82" x2="291.29" y2="170.25" stroke="#000" stroke-width="0.8"/>
<line x1="289.32" y1="67.23" x2="288.93" y2="64.77" stroke="#000" stroke-width="0.8"/>
<line x1="304.79" y1="165.02" x2="305.18" y2="167.49" stroke="#000" stroke-width="0.8"/>
<line x1="311.40" y1="64.64" x2="311.20" y2="62.14" stroke="#000" stroke-width="0.8"/>
<line x1="319.05" y1="163.34" x2="319.24" y2="165.83" stroke="#000" stroke-width="0.8"/>
<line x1="354.0" y1="60.3" x2="344.0" y2="45.5" stroke="#666" stroke-width="0.7"/>
<text x="334.2" y="43.0" textLength="20.6" lengthAdjust="spacingAndGlyphs" font-size="9.2" class="gl">espF</text>
<line x1="385.4" y1="64.4" x2="376.8" y2="47.2" stroke="#666" stroke-width="0.7"/>
<text x="358.3" y="45.9" textLength="39.5" lengthAdjust="spacingAndGlyphs" font-size="9.2" class="gl">ECs4551</text>
<line x1="401.7" y1="67.3" x2="413.1" y2="54.8" stroke="#666" stroke-width="0.7"/>
<text x="404.0" y="53.9" textLength="20.0" lengthAdjust="spacingAndGlyphs" font-size="9.2" class="gl">escF</text>
<line x1="421.3" y1="74.9" x2="438.9" y2="64.0" stroke="#666" stroke-width="0.7"/>
<text x="426.5" y="61.5" textLength="27.3" lengthAdjust="spacingAndGlyphs" font-size="9.2" class="gl">cesD2</text>
<line x1="458.9" y1="88.0" x2="465.3" y2="74.0" stroke="#666" stroke-width="0.7"/>
<text x="465.8" y="77.8" textLength="21.9" lengthAdjust="spacingAndGlyphs" font-size="9.2" class="gl">espB</text>
<line x1="509.9" y1="121.1" x2="519.3" y2="108.4" stroke="#666" stroke-width="0.7"/>
<text x="519.3" y="112.2" textLength="22.9" lengthAdjust="spacingAndGlyphs" font-size="9.2" class="gl">espD</text>
<line x1="546.8" y1="156.3" x2="557.8" y2="145.4" stroke="#666" stroke-width="0.7"/>
<text x="558.3" y="149.2" textLength="21.6" lengthAdjust="spacingAndGlyphs" font-size="9.2" class="gl">espA</text>
<line x1="575.3" y1="195.0" x2="588.3" y2="186.1" stroke="#666" stroke-width="0.7"/>
<text x="588.9" y="189.9" textLength="20.3" lengthAdjust="spacingAndGlyphs" font-size="9.2" class="gl">sepL</text>
<line x1="602.9" y1="255.7" x2="617.4" y2="249.8" stroke="#666" stroke-width="0.7"/>
<text x="618.2" y="252.4" textLength="21.6" lengthAdjust="spacingAndGlyphs" font-size="9.2" class="gl">escD</text>
<line x1="615.8" y1="370.3" x2="630.1" y2="371.2" stroke="#666" stroke-width="0.7"/>
<text x="631.0" y="373.0" textLength="16.0" lengthAdjust="spacingAndGlyphs" font-size="9.2" class="gl">eae</text>
<line x1="591.7" y1="462.2" x2="604.2" y2="467.5" stroke="#666" stroke-width="0.7"/>
<text x="605.1" y="469.8" textLength="20.1" lengthAdjust="spacingAndGlyphs" font-size="9.2" class="gl">cesT</text>
<line x1="557.8" y1="515.7" x2="570.3" y2="523.7" stroke="#666" stroke-width="0.7"/>
<text x="570.7" y="526.4" textLength="10.0" lengthAdjust="spacingAndGlyphs" font-size="9.2" class="gl">tir</text>
<line x1="511.4" y1="563.4" x2="521.6" y2="573.1" stroke="#666" stroke-width="0.7"/>
<text x="522.1" y="577.0" textLength="19.1" lengthAdjust="spacingAndGlyphs" font-size="9.2" class="gl">map</text>
<line x1="487.7" y1="582.0" x2="495.6" y2="589.7" stroke="#666" stroke-width="0.7"/>
<text x="495.6" y="595.5" textLength="20.9" lengthAdjust="spacingAndGlyphs" font-size="9.2" class="gl">cesF</text>
<line x1="463.8" y1="596.6" x2="470.1" y2="606.8" stroke="#666" stroke-width="0.7"/>
<text x="470.1" y="611.3" textLength="22.7" lengthAdjust="spacingAndGlyphs" font-size="9.2" class="gl">espH</text>
<line x1="424.8" y1="613.9" x2="428.6" y2="624.1" stroke="#666" stroke-width="0.7"/>
<text x="418.4" y="633.0" textLength="22.9" lengthAdjust="spacingAndGlyphs" font-size="9.2" class="gl">sepQ</text>
<line x1="387.3" y1="622.8" x2="395.5" y2="633.0" stroke="#666" stroke-width="0.7"/>
<text x="377.6" y="640.6" textLength="39.5" lengthAdjust="spacingAndGlyphs" font-size="9.2" class="gl">ECs4566</text>
<line x1="360.8" y1="626.2" x2="353.8" y2="638.9" stroke="#666" stroke-width="0.7"/>
<text x="335.0" y="646.4" textLength="38.4" lengthAdjust="spacingAndGlyphs" font-size="9.2" class="gl">ECs4567</text>
<line x1="309.8" y1="627.1" x2="309.5" y2="638.9" stroke="#666" stroke-width="0.7"/>
<text x="297.7" y="646.4" textLength="21.9" lengthAdjust="spacingAndGlyphs" font-size="9.2" class="gl">escN</text>
<line x1="215.9" y1="601.9" x2="210.8" y2="613.6" stroke="#666" stroke-width="0.7"/>
<text x="198.2" y="620.6" textLength="21.0" lengthAdjust="spacingAndGlyphs" font-size="9.2" class="gl">escV</text>
<line x1="156.4" y1="565.7" x2="148.9" y2="574.1" stroke="#666" stroke-width="0.7"/>
<text x="128.5" y="577.6" textLength="19.5" lengthAdjust="spacingAndGlyphs" font-size="9.2" class="gl">mpc</text>
<line x1="140.4" y1="552.4" x2="131.2" y2="562.7" stroke="#666" stroke-width="0.7"/>
<text x="108.3" y="565.7" textLength="21.7" lengthAdjust="spacingAndGlyphs" font-size="9.2" class="gl">espZ</text>
<line x1="124.3" y1="536.3" x2="114.5" y2="545.5" stroke="#666" stroke-width="0.7"/>
<text x="75.0" y="547.3" textLength="39.0" lengthAdjust="spacingAndGlyphs" font-size="9.2" class="gl">ECs4572</text>
<line x1="103.7" y1="512.2" x2="93.8" y2="519.1" stroke="#666" stroke-width="0.7"/>
<text x="75.5" y="522.5" textLength="17.9" lengthAdjust="spacingAndGlyphs" font-size="9.2" class="gl">escJ</text>
<line x1="87.0" y1="485.4" x2="75.0" y2="492.3" stroke="#666" stroke-width="0.7"/>
<text x="51.6" y="495.0" textLength="23.4" lengthAdjust="spacingAndGlyphs" font-size="9.2" class="gl">sepD</text>
<line x1="62.7" y1="431.9" x2="50.4" y2="435.2" stroke="#666" stroke-width="0.7"/>
<text x="28.3" y="437.5" textLength="21.4" lengthAdjust="spacingAndGlyphs" font-size="9.2" class="gl">escC</text>
<line x1="50.4" y1="374.5" x2="37.0" y2="375.1" stroke="#666" stroke-width="0.7"/>
<text x="14.5" y="377.1" textLength="21.9" lengthAdjust="spacingAndGlyphs" font-size="9.2" class="gl">cesD</text>
<line x1="48.9" y1="347.6" x2="35.9" y2="347.6" stroke="#666" stroke-width="0.7"/>
<text x="16.5" y="349.9" textLength="18.4" lengthAdjust="spacingAndGlyphs" font-size="9.2" class="gl">glrA</text>
<line x1="49.7" y1="322.6" x2="36.4" y2="322.1" stroke="#666" stroke-width="0.7"/>
<text x="17.6" y="324.4" textLength="17.9" lengthAdjust="spacingAndGlyphs" font-size="9.2" class="gl">grlR</text>
<line x1="52.6" y1="296.9" x2="39.7" y2="294.9" stroke="#666" stroke-width="0.7"/>
<text x="8.2" y="289.6" textLength="39.1" lengthAdjust="spacingAndGlyphs" font-size="9.2" class="gl">ECs4579</text>
<line x1="63.2" y1="253.5" x2="51.4" y2="250.5" stroke="#666" stroke-width="0.7"/>
<text x="28.5" y="250.5" textLength="21.4" lengthAdjust="spacingAndGlyphs" font-size="9.2" class="gl">escU</text>
<line x1="85.6" y1="204.6" x2="73.8" y2="198.5" stroke="#666" stroke-width="0.7"/>
<text x="52.0" y="199.1" textLength="20.4" lengthAdjust="spacingAndGlyphs" font-size="9.2" class="gl">escT</text>
<line x1="102.9" y1="177.1" x2="92.7" y2="171.0" stroke="#666" stroke-width="0.7"/>
<text x="70.3" y="170.3" textLength="21.0" lengthAdjust="spacingAndGlyphs" font-size="9.2" class="gl">escS</text>
<line x1="120.7" y1="154.2" x2="111.1" y2="147.5" stroke="#666" stroke-width="0.7"/>
<text x="88.7" y="146.5" textLength="21.3" lengthAdjust="spacingAndGlyphs" font-size="9.2" class="gl">escR</text>
<line x1="150.5" y1="127.1" x2="141.0" y2="119.2" stroke="#666" stroke-width="0.7"/>
<text x="101.8" y="117.0" textLength="39.2" lengthAdjust="spacingAndGlyphs" font-size="9.2" class="gl">ECs4584</text>
<line x1="184.9" y1="103.9" x2="175.4" y2="93.7" stroke="#666" stroke-width="0.7"/>
<text x="134.6" y="92.7" textLength="39.8" lengthAdjust="spacingAndGlyphs" font-size="9.2" class="gl">ECs4585</text>
<line x1="205.3" y1="89.9" x2="199.9" y2="81.0" stroke="#666" stroke-width="0.7"/>
<text x="160.7" y="77.8" textLength="39.8" lengthAdjust="spacingAndGlyphs" font-size="9.2" class="gl">ECs4586</text>
<line x1="223.1" y1="81.9" x2="215.8" y2="72.4" stroke="#666" stroke-width="0.7"/>
<text x="190.6" y="68.9" textLength="39.5" lengthAdjust="spacingAndGlyphs" font-size="9.2" class="gl">ECs4587</text>
<line x1="241.3" y1="74.6" x2="236.5" y2="66.6" stroke="#666" stroke-width="0.7"/>
<text x="227.0" y="60.3" textLength="11.7" lengthAdjust="spacingAndGlyphs" font-size="9.2" class="gl">ler</text>
<line x1="255.6" y1="69.8" x2="260.4" y2="54.8" stroke="#666" stroke-width="0.7"/>
<text x="241.6" y="51.7" textLength="39.5" lengthAdjust="spacingAndGlyphs" font-size="9.2" class="gl">ECs4589</text>
<line x1="295.4" y1="61.8" x2="293.8" y2="48.5" stroke="#666" stroke-width="0.7"/>
<text x="283.3" y="45.0" textLength="23.3" lengthAdjust="spacingAndGlyphs" font-size="9.2" class="gl">espG</text>
<text x="169.6" y="343.6" textLength="327.9" lengthAdjust="spacingAndGlyphs" font-size="14.2" class="ct">Translated E. coli O157:H7 Sakai LEE genes</text>
<text x="296.0" y="364.7" textLength="72.6" lengthAdjust="spacingAndGlyphs" font-size="14.2" class="ct">31589 bp</text>
<text x="689.5" y="101.6" font-size="9.4" class="lt" textLength="67.3" lengthAdjust="spacingAndGlyphs">O157:H7 Sakai</text>
<rect x="690.0" y="107.6" width="7.8" height="7.6" fill="#4b2083"/>
<text x="701.8" y="114.2" font-size="7.0" class="li" textLength="46.0" lengthAdjust="spacingAndGlyphs">100% identity</text>
<rect x="690.0" y="119.3" width="7.8" height="7.6" fill="#a08cc3"/>
<text x="701.8" y="125.9" font-size="7.0" class="li" textLength="41.8" lengthAdjust="spacingAndGlyphs">70% identity</text>
<rect x="690.0" y="131.0" width="7.8" height="7.6" fill="#e0e0e0"/>
<text x="701.8" y="137.6" font-size="7.0" class="li" textLength="41.8" lengthAdjust="spacingAndGlyphs">50% identity</text>
<text x="689.5" y="152.2" font-size="9.4" class="lt" textLength="78.3" lengthAdjust="spacingAndGlyphs">O157:H7 EDL933</text>
<rect x="690.0" y="158.2" width="7.8" height="7.6" fill="#7a22e2"/>
<text x="701.8" y="164.8" font-size="7.0" class="li" textLength="46.0" lengthAdjust="spacingAndGlyphs">100% identity</text>
<rect x="690.0" y="169.9" width="7.8" height="7.6" fill="#b492e2"/>
<text x="701.8" y="176.5" font-size="7.0" class="li" textLength="41.8" lengthAdjust="spacingAndGlyphs">70% identity</text>
<rect x="690.0" y="181.7" width="7.8" height="7.6" fill="#e0e0e0"/>
<text x="701.8" y="188.2" font-size="7.0" class="li" textLength="41.8" lengthAdjust="spacingAndGlyphs">50% identity</text>
<text x="689.5" y="202.9" font-size="9.4" class="lt" textLength="77.5" lengthAdjust="spacingAndGlyphs">O157:H7 EC4115</text>
<rect x="690.0" y="208.9" width="7.8" height="7.6" fill="#e020e0"/>
<text x="701.8" y="215.5" font-size="7.0" class="li" textLength="46.0" lengthAdjust="spacingAndGlyphs">100% identity</text>
<rect x="690.0" y="220.6" width="7.8" height="7.6" fill="#e094e0"/>
<text x="701.8" y="227.2" font-size="7.0" class="li" textLength="41.8" lengthAdjust="spacingAndGlyphs">70% identity</text>
<rect x="690.0" y="232.3" width="7.8" height="7.6" fill="#e0e0e0"/>
<text x="701.8" y="238.9" font-size="7.0" class="li" textLength="41.8" lengthAdjust="spacingAndGlyphs">50% identity</text>
<text x="689.5" y="253.5" font-size="9.4" class="lt" textLength="85.3" lengthAdjust="spacingAndGlyphs">O157:H7 TW14359</text>
<rect x="690.0" y="259.5" width="7.8" height="7.6" fill="#7e1a7e"/>
<text x="701.8" y="266.1" font-size="7.0" class="li" textLength="46.0" lengthAdjust="spacingAndGlyphs">100% identity</text>
<rect x="690.0" y="271.2" width="7.8" height="7.6" fill="#b892c0"/>
<text x="701.8" y="277.8" font-size="7.0" class="li" textLength="41.8" lengthAdjust="spacingAndGlyphs">70% identity</text>
<rect x="690.0" y="282.9" width="7.8" height="7.6" fill="#e0e0e0"/>
<text x="701.8" y="289.5" font-size="7.0" class="li" textLength="41.8" lengthAdjust="spacingAndGlyphs">50% identity</text>
<text x="689.5" y="304.2" font-size="9.4" class="lt" textLength="70.0" lengthAdjust="spacingAndGlyphs">O103:H2 12009</text>
<rect x="690.0" y="310.2" width="7.8" height="7.6" fill="#2ab2e2"/>
<text x="701.8" y="316.8" font-size="7.0" class="li" textLength="46.0" lengthAdjust="spacingAndGlyphs">100% identity</text>
<rect x="690.0" y="321.9" width="7.8" height="7.6" fill="#92d2e4"/>
<text x="701.8" y="328.5" font-size="7.0" class="li" textLength="41.8" lengthAdjust="spacingAndGlyphs">70% identity</text>
<rect x="690.0" y="333.6" width="7.8" height="7.6" fill="#e0e0e0"/>
<text x="701.8" y="340.2" font-size="7.0" class="li" textLength="41.8" lengthAdjust="spacingAndGlyphs">50% identity</text>
<text x="689.5" y="354.9" font-size="9.4" class="lt" textLength="64.9" lengthAdjust="spacingAndGlyphs">O111:H- 11128</text>
<rect x="690.0" y="360.9" width="7.8" height="7.6" fill="#2222b2"/>
<text x="701.8" y="367.5" font-size="7.0" class="li" textLength="46.0" lengthAdjust="spacingAndGlyphs">100% identity</text>
<rect x="690.0" y="372.6" width="7.8" height="7.6" fill="#9292d2"/>
<text x="701.8" y="379.2" font-size="7.0" class="li" textLength="41.8" lengthAdjust="spacingAndGlyphs">70% identity</text>
<rect x="690.0" y="384.2" width="7.8" height="7.6" fill="#e0e0e0"/>
<text x="701.8" y="390.9" font-size="7.0" class="li" textLength="41.8" lengthAdjust="spacingAndGlyphs">50% identity</text>
<text x="689.5" y="405.5" font-size="9.4" class="lt" textLength="84.9" lengthAdjust="spacingAndGlyphs">O127:H6 E2348/69</text>
<rect x="690.0" y="411.5" width="7.8" height="7.6" fill="#2ae05a"/>
<text x="701.8" y="418.1" font-size="7.0" class="li" textLength="46.0" lengthAdjust="spacingAndGlyphs">100% identity</text>
<rect x="690.0" y="423.2" width="7.8" height="7.6" fill="#92e2a4"/>
<text x="701.8" y="429.8" font-size="7.0" class="li" textLength="41.8" lengthAdjust="spacingAndGlyphs">70% identity</text>
<rect x="690.0" y="434.9" width="7.8" height="7.6" fill="#e0e0e0"/>
<text x="701.8" y="441.5" font-size="7.0" class="li" textLength="41.8" lengthAdjust="spacingAndGlyphs">50% identity</text>
<text x="689.5" y="456.1" font-size="9.4" class="lt" textLength="72.8" lengthAdjust="spacingAndGlyphs">O55:H7 CB9615</text>
<rect x="690.0" y="462.1" width="7.8" height="7.6" fill="#1f8050"/>
<text x="701.8" y="468.8" font-size="7.0" class="li" textLength="46.0" lengthAdjust="spacingAndGlyphs">100% identity</text>
<rect x="690.0" y="473.8" width="7.8" height="7.6" fill="#92c2aa"/>
<text x="701.8" y="480.4" font-size="7.0" class="li" textLength="41.8" lengthAdjust="spacingAndGlyphs">70% identity</text>
<rect x="690.0" y="485.5" width="7.8" height="7.6" fill="#e0e0e0"/>
<text x="701.8" y="492.1" font-size="7.0" class="li" textLength="41.8" lengthAdjust="spacingAndGlyphs">50% identity</text>
<text x="689.5" y="506.8" font-size="9.4" class="lt" textLength="93.1" lengthAdjust="spacingAndGlyphs">C. rodentium ICC168</text>
<rect x="690.0" y="512.8" width="7.8" height="7.6" fill="#8c1e1e"/>
<text x="701.8" y="519.4" font-size="7.0" class="li" textLength="46.0" lengthAdjust="spacingAndGlyphs">100% identity</text>
<rect x="690.0" y="524.5" width="7.8" height="7.6" fill="#c49494"/>
<text x="701.8" y="531.1" font-size="7.0" class="li" textLength="41.8" lengthAdjust="spacingAndGlyphs">70% identity</text>
<rect x="690.0" y="536.2" width="7.8" height="7.6" fill="#e0e0e0"/>
<text x="701.8" y="542.8" font-size="7.0" class="li" textLength="41.8" lengthAdjust="spacingAndGlyphs">50% identity</text>
<text x="689.5" y="557.4" font-size="9.4" class="lt" textLength="58.4" lengthAdjust="spacingAndGlyphs">K12 MG1655</text>
<rect x="690.0" y="563.4" width="7.8" height="7.6" fill="#e0aa1a"/>
<text x="701.8" y="570.0" font-size="7.0" class="li" textLength="46.0" lengthAdjust="spacingAndGlyphs">100% identity</text>
<rect x="690.0" y="575.1" width="7.8" height="7.6" fill="#e4d4a4"/>
<text x="701.8" y="581.8" font-size="7.0" class="li" textLength="41.8" lengthAdjust="spacingAndGlyphs">70% identity</text>
<rect x="690.0" y="586.8" width="7.8" height="7.6" fill="#e0e0e0"/>
<text x="701.8" y="593.4" font-size="7.0" class="li" textLength="41.8" lengthAdjust="spacingAndGlyphs">50% identity</text>
<path fill-rule="evenodd" d="M16.6,713.2H40C50,713.2 54,719 54,726.5C54,732 51,736.5 46.5,738.5C52.5,740.5 55.8,745 55.8,752C55.8,761 50,768.2 40,768.2H16.6ZM23.9,719.2H39C44,719.2 46.5,722 46.5,727C46.5,732 44,736.1 39,736.1H23.9ZM23.9,741.9H40C45,741.9 48,745.5 48,752C48,758.5 45,762.4 40,762.4H23.9Z" fill="#000"/>
<circle cx="339.70" cy="1019.70" r="185.45" fill="none" stroke="#522988" stroke-width="9.48"/>
<circle cx="339.70" cy="1019.70" r="185.45" fill="none" stroke="#4b2083" stroke-width="9.48" pathLength="360" stroke-dasharray="0 0.56 3.48 0.42 0.70 1.53 0.70 4.79 0.68 4.08 0.72 2.78 0.72 1.03 0.72 2.78 0.72 1.61 1.31 2.20 0.72 0.98 1.27 2.11 1.27 2.67 1.83 5.45 2.36 2.08 0.69 0.99 1.27 2.11 1.83 1.55 0.70 0.99 2.39 0.42 0.72 2.76 0.72 1.60 1.30 0.44 3.04 3.34 0.72 7.60 0.70 0.42 0.70 2.67 2.39 0.42 0.70 3.83 0.72 1.02 1.30 2.17 1.30 2.17 0.72 6.81 1.88 3.82 2.39 0.42 1.27 2.11 1.27 6.05 1.83 0.99 2.42 6.09 0.70 2.64 1.29 1.63 2.50 0.45 0.73 2.10 1.26 0.98 1.82 1.54 0.70 1.54 0.70 5.22 0.74 1.06 0.74 0.46 0.74 1.66 0.70 0.42 0.70 0.42 0.70 1.54 0.70 0.98 1.82 0.42 1.26 6.03 2.41 0.43 0.71 0.43 1.27 2.13 0.71 6.65 1.25 1.53 0.70 8.86 0.72 3.78 0.70 8.81 1.32 1.04 0.73 0.45 0.71 9.52 1.27 4.38 0.71 6.08 0.71 4.83 0.69 0.41 3.03 1.02 1.30 2.26 0.74 3.94 0.71 4.95 0.70 0.98 0.70 0.98 2.38 3.21 1.26 8.08 0.73 3.36 0.72 0.44 1.30 1.60 0.72 2.17 1.88 3.26 1.27 0.43 1.27 1.56 1.26 0.41 0.69 0.41 0.69 4.89 1.34 3.50 0.76 2.21 1.81 1.53 0.70 1.66 0.72 1.59 0.72 1.01 1.87 6.77 0.72 0.44 0.72 0.01 0" transform="rotate(-90.30 339.70 1019.70)"/>
<circle cx="339.70" cy="1019.70" r="185.45" fill="none" stroke="#59328e" stroke-width="9.48" pathLength="360" stroke-dasharray="0 9.44 0.68 7.96 0.72 0.44 0.72 61.92 1.24 7.67 0.70 37.55 0.70 13.43 1.85 30.96 0.74 3.82 0.70 10.51 0.70 22.35 0.70 2.12 0.72 4.96 0.70 3.37 1.34 13.32 0.71 15.14 0.71 2.69 0.69 2.06 1.24 7.31 0.74 27.92 0.73 10.34 0.72 4.45 1.27 16.93 0.76 20.08 0.72 2.74 0" transform="rotate(-90.30 339.70 1019.70)"/>
<circle cx="339.70" cy="1019.70" r="195.35" fill="none" stroke="#7f2be2" stroke-width="9.48"/>
<circle cx="339.70" cy="1019.70" r="195.35" fill="none" stroke="#7a22e2" stroke-width="9.48" pathLength="360" stroke-dasharray="0 3.34 0.70 1.53 0.70 0.97 1.81 0.40 0.68 0.40 0.68 1.49 0.75 3.47 0.72 1.61 1.31 1.03 1.31 3.95 1.89 1.03 1.31 1.03 0.70 2.11 1.27 1.55 0.70 2.11 1.83 0.98 0.70 3.76 0.69 3.74 0.69 4.37 0.70 0.42 0.70 0.42 0.70 2.68 1.27 2.15 1.30 4.50 1.30 5.66 0.72 0.96 4.53 2.67 0.70 9.99 2.47 6.80 0.72 2.75 1.30 2.76 0.72 0.44 0.72 2.69 0.70 6.61 1.27 5.49 1.83 0.42 1.27 0.43 0.71 5.55 1.26 3.75 0.70 9.68 2.38 1.54 0.70 0.42 0.70 2.74 0.74 0.46 0.74 1.06 0.74 0.46 1.94 1.66 0.74 5.51 1.26 0.42 2.38 0.98 2.38 13.42 0.71 1.56 0.71 3.21 0.70 0.97 1.25 0.97 5.20 0.43 0.72 0.44 0.72 21.39 0.71 2.13 0.71 0.43 1.27 0.43 0.71 2.69 0.71 3.25 0.71 0.43 0.71 12.20 1.87 4.02 1.34 1.60 0.71 3.85 2.38 7.69 0.70 1.54 0.73 2.21 1.90 2.21 0.73 1.04 1.31 0.44 0.72 1.61 1.88 1.02 0.72 1.02 2.45 1.02 1.27 4.39 1.84 0.43 0.71 1.52 1.25 4.29 1.34 0.46 1.34 2.30 0.76 2.21 0.70 2.64 0.70 0.46 1.34 1.59 1.29 1.59 0.72 0.44 0.72 1.01 0.72 6.20 0" transform="rotate(-90.30 339.70 1019.70)"/>
<circle cx="339.70" cy="1019.70" r="195.35" fill="none" stroke="#8435e2" stroke-width="9.48" pathLength="360" stroke-dasharray="0 24.51 0.72 13.62 0.70 11.59 0.69 34.48 0.70 31.91 0.70 3.24 0.70 26.33 0.73 7.41 0.70 18.46 0.70 15.57 0.71 2.13 0.71 24.10 0.70 18.55 0.71 19.11 0.71 18.21 0.71 11.66 0.70 1.54 0.70 54.68 0.72 10.23 0" transform="rotate(-90.30 339.70 1019.70)"/>
<circle cx="339.70" cy="1019.70" r="205.25" fill="none" stroke="#e02ae0" stroke-width="9.48"/>
<circle cx="339.70" cy="1019.70" r="205.25" fill="none" stroke="#e020e0" stroke-width="9.48" pathLength="360" stroke-dasharray="0 5.56 0.70 6.44 1.36 1.69 0.72 1.61 0.72 5.70 3.06 2.20 0.72 9.49 0.70 1.55 0.70 0.98 0.70 5.42 0.69 6.02 1.27 0.42 0.70 0.99 0.70 4.95 2.46 12.56 1.24 3.72 1.26 9.41 0.70 0.98 2.47 0.44 0.72 3.33 1.30 2.17 1.30 2.75 1.30 5.05 0.70 3.80 0.70 1.55 1.27 0.42 0.70 0.42 1.83 5.49 1.83 1.00 0.71 1.57 0.71 2.71 0.71 2.64 2.36 0.45 1.91 2.81 1.29 2.66 0.70 3.22 1.82 2.10 0.74 16.19 0.70 6.59 0.70 2.68 1.27 4.96 0.71 4.96 0.71 3.75 0.70 0.97 1.81 3.81 0.72 1.01 1.29 0.97 0.70 0.42 0.70 3.37 0.74 2.85 2.51 6.28 0.71 2.71 1.27 1.56 1.27 4.95 1.84 1.56 0.71 0.99 0.71 4.35 2.34 0.96 2.40 4.50 2.54 5.08 1.28 3.24 1.26 2.66 0.70 2.66 1.82 10.38 1.31 4.51 0.72 4.49 0.72 7.79 0.71 1.52 0.69 4.84 1.94 4.74 0.76 2.08 0.70 2.08 0.74 1.06 1.29 1.01 0.72 1.59 0.72 0.44 0.72 4.47 2.44 1.01 0" transform="rotate(-90.30 339.70 1019.70)"/>
<circle cx="339.70" cy="1019.70" r="205.25" fill="none" stroke="#e033e0" stroke-width="9.48" pathLength="360" stroke-dasharray="0 16.92 0.72 5.70 0.72 9.16 0.70 15.00 0.69 41.19 0.70 25.71 0.72 2.67 0.70 3.24 0.70 43.54 1.34 8.74 0.70 3.22 0.70 9.39 0.71 8.36 0.71 0.43 0.71 66.47 0.72 11.52 1.26 16.92 1.31 4.54 0.72 37.74 0.74 3.32 0.72 10.23 0" transform="rotate(-90.30 339.70 1019.70)"/>
<circle cx="339.70" cy="1019.70" r="215.15" fill="none" stroke="#832484" stroke-width="9.48"/>
<circle cx="339.70" cy="1019.70" r="215.15" fill="none" stroke="#7e1a7e" stroke-width="9.48" pathLength="360" stroke-dasharray="0 1.11 2.92 8.12 0.68 4.08 1.31 3.95 2.48 2.20 0.72 3.95 0.72 1.55 1.27 1.55 1.27 2.11 1.27 0.98 0.70 0.42 0.70 0.98 0.70 2.63 1.25 0.97 1.25 11.11 0.70 6.19 0.72 1.60 0.72 3.92 0.72 2.18 1.24 0.41 0.69 7.65 1.83 0.98 1.26 0.42 0.70 7.87 1.30 1.02 1.87 2.17 0.72 3.33 0.72 5.05 0.70 0.42 1.27 0.99 1.83 5.49 1.83 0.99 1.27 2.11 0.70 8.39 1.25 3.19 1.29 2.22 0.73 2.22 0.70 4.90 0.70 3.78 0.70 7.02 0.74 3.42 1.26 15.01 0.71 6.09 1.84 2.69 0.71 2.10 0.70 2.64 1.81 1.53 0.70 8.36 0.70 1.62 1.34 5.82 2.51 5.06 0.71 5.53 0.71 2.12 0.71 2.69 0.71 1.56 2.40 7.10 0.69 1.54 0.72 0.44 0.72 4.55 2.54 1.60 0.71 2.14 0.71 3.24 1.82 4.89 0.70 1.54 0.70 3.36 0.73 1.04 3.08 6.28 0.72 7.36 0.71 3.83 2.97 5.95 0.69 1.61 0.74 1.66 0.74 5.18 1.25 0.42 1.25 1.66 1.29 5.62 0.72 0.44 0.72 2.16 1.29 2.16 0" transform="rotate(-90.30 339.70 1019.70)"/>
<circle cx="339.70" cy="1019.70" r="215.15" fill="none" stroke="#882e89" stroke-width="9.48" pathLength="360" stroke-dasharray="0 8.34 0.70 51.65 0.70 4.97 0.72 60.29 0.70 12.84 0.71 34.38 0.74 12.80 0.70 7.19 1.84 83.23 0.70 0.42 0.70 3.21 1.26 3.77 0.70 9.76 0.73 1.61 0.72 3.92 0.72 29.18 0.70 8.45 0.72 10.23 0" transform="rotate(-90.30 339.70 1019.70)"/>
<circle cx="339.70" cy="1019.70" r="225.05" fill="none" stroke="#2ab2e2" stroke-width="9.48"/>
<circle cx="339.70" cy="1019.70" r="225.05" fill="none" stroke="#5ec2e3" stroke-width="9.48" pathLength="360" stroke-dasharray="0 0.00 0.70 5.98 0.70 0.42 0.70 0.42 1.23 54.51 0.70 84.56 0.73 7.41 0.70 10.66 0.74 0.46 0.74 1.66 0.74 0.46 1.34 53.06 0.74 130.66 0" transform="rotate(-90.30 339.70 1019.70)"/>
<circle cx="339.70" cy="1019.70" r="225.05" fill="none" stroke="#78cae4" stroke-width="9.48" pathLength="360" stroke-dasharray="0 0.56 1.25 0.42 0.70 1.53 0.70 143.64 0.70 1.01 0.73 0.45 1.32 1.63 0.73 66.86 0.70 137.09 0" transform="rotate(-90.30 339.70 1019.70)"/>
<circle cx="339.70" cy="1019.70" r="225.05" fill="none" stroke="#89cfe4" stroke-width="9.48" pathLength="360" stroke-dasharray="0 1.67 0.70 45.45 0.69 0.41 0.69 58.34 0.72 12.51 0.70 24.13 1.25 0.42 0.70 4.48 0.73 0.45 0.73 0.45 0.73 66.83 0.70 136.53 0" transform="rotate(-90.30 339.70 1019.70)"/>
<circle cx="339.70" cy="1019.70" r="225.05" fill="none" stroke="#6fc7e3" stroke-width="9.48" pathLength="360" stroke-dasharray="0 2.78 0.70 42.68 0.69 5.40 0.69 46.33 0.72 53.44 0.73 17.63 0.74 187.46 0" transform="rotate(-90.30 339.70 1019.70)"/>
<circle cx="339.70" cy="1019.70" r="225.05" fill="none" stroke="#55bfe3" stroke-width="9.48" pathLength="360" stroke-dasharray="0 3.34 0.70 2.08 0.70 3.17 0.68 39.36 0.69 32.27 0.69 16.17 0.72 55.22 0.70 9.38 0.70 1.62 1.34 2.86 0.74 53.66 1.34 1.06 0.74 130.06 0" transform="rotate(-90.30 339.70 1019.70)"/>
<circle cx="339.70" cy="1019.70" r="225.05" fill="none" stroke="#67c5e3" stroke-width="9.48" pathLength="360" stroke-dasharray="0 3.89 0.70 0.42 0.70 1.53 0.70 37.67 0.69 4.29 0.69 0.41 0.69 45.72 1.30 45.49 0.70 2.64 0.70 2.15 0.73 8.47 0.70 9.02 0.74 0.46 0.74 188.06 0" transform="rotate(-90.30 339.70 1019.70)"/>
<circle cx="339.70" cy="1019.70" r="225.05" fill="none" stroke="#4dbde3" stroke-width="9.48" pathLength="360" stroke-dasharray="0 5.56 0.70 2.09 0.70 1.49 1.23 39.38 0.69 2.09 1.27 7.75 1.83 91.58 0.70 0.42 0.70 2.66 1.82 3.78 1.90 5.26 0.74 1.06 1.34 30.32 0.70 5.97 0.70 13.58 0.74 1.06 0.74 78.32 0.72 2.75 0.72 15.68 1.25 27.14 0.72 0.44 0.72 1.01 0" transform="rotate(-90.30 339.70 1019.70)"/>
<circle cx="339.70" cy="1019.70" r="225.05" fill="none" stroke="#44bae2" stroke-width="9.48" pathLength="360" stroke-dasharray="0 11.61 0.68 0.40 1.36 40.99 0.70 1.55 1.27 0.99 0.70 1.55 1.27 2.11 1.30 11.46 0.72 4.86 0.69 0.41 0.69 0.98 0.70 4.35 0.70 2.11 0.70 5.56 0.72 57.44 0.70 0.42 0.70 3.78 0.70 0.42 0.70 10.58 0.74 17.83 0.71 8.92 0.71 2.11 0.70 0.97 0.70 4.86 0.70 0.42 0.70 9.56 0.74 55.56 0.70 29.71 0.72 5.57 1.27 2.13 0.71 12.39 0.76 9.14 1.29 10.80 0.72 0.44 0.72 0.44 0" transform="rotate(-90.30 339.70 1019.70)"/>
<circle cx="339.70" cy="1019.70" r="225.05" fill="none" stroke="#3bb7e2" stroke-width="9.48" pathLength="360" stroke-dasharray="0 12.16 0.68 1.08 1.36 2.22 1.31 33.99 1.27 1.55 0.70 0.42 0.70 1.55 0.70 0.42 1.83 4.40 0.72 2.18 1.30 3.92 0.72 3.34 0.72 0.44 0.69 1.51 1.24 0.96 0.69 0.97 0.70 3.23 1.83 0.42 0.70 0.98 0.70 17.68 0.72 0.44 0.72 0.44 0.72 41.88 0.70 4.90 0.70 26.32 0.70 4.36 0.71 6.66 2.41 0.99 1.84 0.97 1.25 3.75 0.70 0.42 0.70 0.42 0.70 1.57 0.72 1.58 0.72 4.93 0.74 14.58 0.71 25.75 0.72 8.70 0.71 1.57 0.71 0.43 0.71 2.13 0.70 0.42 0.70 0.42 0.70 2.66 0.70 3.21 0.70 9.76 0.73 5.68 1.30 5.63 0.71 3.26 0.71 2.13 0.71 1.53 0.69 1.52 1.25 0.97 0.69 3.37 0.74 2.30 0.76 15.96 0.72 2.16 0.72 2.74 0" transform="rotate(-90.30 339.70 1019.70)"/>
<circle cx="339.70" cy="1019.70" r="225.05" fill="none" stroke="#33b5e2" stroke-width="9.48" pathLength="360" stroke-dasharray="0 15.14 0.75 40.29 0.70 10.05 1.30 2.18 0.72 3.92 1.88 3.86 0.69 3.70 0.70 0.98 0.70 0.98 1.26 2.67 0.70 1.55 0.70 2.11 0.70 14.33 0.72 0.44 0.72 0.44 0.72 1.60 0.72 41.22 0.70 3.22 1.26 0.42 0.70 20.15 0.70 6.03 2.40 0.99 0.71 0.43 3.54 0.43 1.27 2.13 0.71 6.57 1.81 6.07 0.72 10.31 1.32 5.18 0.73 2.71 0.71 0.43 0.71 0.43 0.71 1.56 0.71 1.56 1.84 4.38 1.84 1.56 0.71 1.56 1.84 4.28 2.37 1.59 1.30 1.02 0.72 1.06 1.94 4.51 0.71 1.00 0.71 1.55 0.70 0.42 0.70 0.42 0.70 1.54 0.70 0.98 1.82 1.54 0.70 1.57 1.31 6.91 0.73 1.03 0.72 7.40 2.45 6.09 0.71 1.56 1.25 4.84 0.69 1.01 0.74 0.46 0.74 0.46 0.74 1.08 0.76 10.25 1.29 1.59 1.29 0.44 0.72 0.44 0.72 6.20 0" transform="rotate(-90.30 339.70 1019.70)"/>
<circle cx="339.70" cy="1019.70" r="225.05" fill="none" stroke="#e3e3e3" stroke-width="9.48" pathLength="360" stroke-dasharray="0 21.00 0.72 338.28 0" transform="rotate(-90.30 339.70 1019.70)"/>
<circle cx="339.70" cy="1019.70" r="225.05" fill="none" stroke="#d6dee0" stroke-width="9.48" pathLength="360" stroke-dasharray="0 21.58 0.72 5.12 0.72 7.32 0.70 2.67 0.70 66.09 0.72 253.64 0" transform="rotate(-90.30 339.70 1019.70)"/>
<circle cx="339.70" cy="1019.70" r="225.05" fill="none" stroke="#e0e0e0" stroke-width="9.48" pathLength="360" stroke-dasharray="0 22.17 0.72 1.61 0.72 2.78 0.72 13.49 0.70 59.82 0.72 6.80 0.72 14.70 1.27 3.24 0.70 5.49 1.27 222.36 0" transform="rotate(-90.30 339.70 1019.70)"/>
<circle cx="339.70" cy="1019.70" r="225.05" fill="none" stroke="#ccdce1" stroke-width="9.48" pathLength="360" stroke-dasharray="0 22.75 0.72 5.12 1.31 1.03 0.72 9.44 1.27 0.42 0.70 57.53 0.72 2.17 0.72 1.59 0.72 2.75 0.72 7.96 0.70 3.24 0.70 0.99 0.70 11.12 0.70 223.49 0" transform="rotate(-90.30 339.70 1019.70)"/>
<circle cx="339.70" cy="1019.70" r="225.05" fill="none" stroke="#a5d6e3" stroke-width="9.48" pathLength="360" stroke-dasharray="0 23.34 0.72 8.60 0.70 0.42 0.70 9.42 1.83 65.68 0.72 16.35 0.70 2.11 1.27 0.42 0.70 5.51 0.71 0.43 0.71 1.57 0.71 3.79 0.70 76.07 1.25 134.86 0" transform="rotate(-90.30 339.70 1019.70)"/>
<circle cx="339.70" cy="1019.70" r="225.05" fill="none" stroke="#c3dbe2" stroke-width="9.48" pathLength="360" stroke-dasharray="0 23.92 0.72 1.03 0.72 0.44 0.72 6.78 1.27 65.98 0.72 2.75 0.72 3.33 0.72 1.02 0.72 6.24 0.70 0.99 0.70 4.36 1.27 2.11 0.70 0.99 0.70 3.24 1.27 86.27 0.70 138.20 0" transform="rotate(-90.30 339.70 1019.70)"/>
<circle cx="339.70" cy="1019.70" r="225.05" fill="none" stroke="#afd7e2" stroke-width="9.48" pathLength="360" stroke-dasharray="0 25.09 0.72 5.70 0.72 6.05 0.70 63.18 0.72 4.48 0.72 13.65 0.70 4.93 0.70 4.36 0.70 6.64 0.71 1.00 1.28 1.57 0.71 4.30 0.70 71.62 0.70 137.65 0" transform="rotate(-90.30 339.70 1019.70)"/>
<circle cx="339.70" cy="1019.70" r="225.05" fill="none" stroke="#b9d9e2" stroke-width="9.48" pathLength="360" stroke-dasharray="0 26.26 0.72 9.06 0.70 2.67 1.83 2.11 0.70 62.75 0.72 15.35 0.70 3.24 0.70 1.55 0.70 0.99 0.70 228.55 0" transform="rotate(-90.30 339.70 1019.70)"/>
<circle cx="339.70" cy="1019.70" r="225.05" fill="none" stroke="#e2e2e2" stroke-width="9.48" pathLength="360" stroke-dasharray="0 29.76 0.72 74.00 0.72 29.48 1.27 224.05 0" transform="rotate(-90.30 339.70 1019.70)"/>
<circle cx="339.70" cy="1019.70" r="225.05" fill="none" stroke="#ececec" stroke-width="9.48" pathLength="360" stroke-dasharray="0 30.35 0.72 72.26 0.72 14.88 0.70 224.17 1.94 14.26 0" transform="rotate(-90.30 339.70 1019.70)"/>
<circle cx="339.70" cy="1019.70" r="225.05" fill="none" stroke="#92d2e4" stroke-width="9.48" pathLength="360" stroke-dasharray="0 32.10 0.70 0.42 0.70 3.23 0.70 9.40 0.69 0.41 0.69 96.39 0.70 213.85 0" transform="rotate(-90.30 339.70 1019.70)"/>
<circle cx="339.70" cy="1019.70" r="225.05" fill="none" stroke="#9cd4e4" stroke-width="9.48" pathLength="360" stroke-dasharray="0 36.60 0.70 71.23 0.72 10.80 1.27 2.11 0.70 13.37 0.71 2.71 0.71 1.57 1.28 215.53 0" transform="rotate(-90.30 339.70 1019.70)"/>
<circle cx="339.70" cy="1019.70" r="225.05" fill="none" stroke="#81cde4" stroke-width="9.48" pathLength="360" stroke-dasharray="0 37.72 0.70 8.28 0.69 2.08 0.69 87.90 1.28 83.98 0.70 135.97 0" transform="rotate(-90.30 339.70 1019.70)"/>
<circle cx="339.70" cy="1019.70" r="234.95" fill="none" stroke="#2222b2" stroke-width="9.48"/>
<circle cx="339.70" cy="1019.70" r="234.95" fill="none" stroke="#9292d2" stroke-width="9.48" pathLength="360" stroke-dasharray="0 0.00 1.25 5.98 0.70 21.25 0.72 7.82 0.70 0.98 0.70 2.67 1.27 7.64 0.69 59.04 0.72 25.93 0.71 4.98 0.71 0.43 0.70 0.97 0.70 0.97 1.25 5.14 0.40 204.98 0" transform="rotate(-90.30 339.70 1019.70)"/>
<circle cx="339.70" cy="1019.70" r="234.95" fill="none" stroke="#6d6dc7" stroke-width="9.48" pathLength="360" stroke-dasharray="0 1.11 0.70 3.20 0.70 0.42 0.70 0.97 1.25 39.88 0.69 0.97 0.69 30.62 0.69 23.06 0.72 4.48 0.72 29.92 1.28 0.43 0.71 3.22 0.70 4.44 0.73 15.81 1.34 58.46 0.74 114.46 1.34 14.86 0" transform="rotate(-90.30 339.70 1019.70)"/>
<circle cx="339.70" cy="1019.70" r="234.95" fill="none" stroke="#5a5ac2" stroke-width="9.48" pathLength="360" stroke-dasharray="0 1.67 1.25 12.83 0.72 3.36 0.72 26.15 2.36 0.97 0.69 3.77 0.70 3.24 1.27 0.99 1.27 0.99 0.70 14.31 2.98 0.41 0.69 0.41 0.69 0.96 1.24 12.78 1.30 61.43 0.70 0.98 1.82 2.66 0.74 0.46 0.74 57.86 0.74 117.46 0.74 14.26 0" transform="rotate(-90.30 339.70 1019.70)"/>
<circle cx="339.70" cy="1019.70" r="234.95" fill="none" stroke="#7676ca" stroke-width="9.48" pathLength="360" stroke-dasharray="0 2.78 0.70 47.66 0.69 53.23 0.72 31.72 0.71 1.57 0.71 10.59 0.73 1.04 1.91 71.44 0.74 133.06 0" transform="rotate(-90.30 339.70 1019.70)"/>
<circle cx="339.70" cy="1019.70" r="234.95" fill="none" stroke="#9c9cd4" stroke-width="9.48" pathLength="360" stroke-dasharray="0 3.34 0.70 29.19 0.70 0.42 0.70 4.92 0.70 61.50 0.72 21.66 0.70 13.38 0.71 220.65 0" transform="rotate(-90.30 339.70 1019.70)"/>
<circle cx="339.70" cy="1019.70" r="234.95" fill="none" stroke="#a5a5d6" stroke-width="9.48" pathLength="360" stroke-dasharray="0 3.89 0.70 33.70 0.70 2.67 0.70 66.17 0.72 0.44 0.72 33.92 0.71 0.42 1.25 2.64 0.70 209.96 0" transform="rotate(-90.30 339.70 1019.70)"/>
<circle cx="339.70" cy="1019.70" r="234.95" fill="none" stroke="#7f7fcd" stroke-width="9.48" pathLength="360" stroke-dasharray="0 4.45 0.70 37.08 0.70 96.28 0.71 1.00 0.71 1.00 0.71 6.57 1.32 4.58 0.14 204.06 0" transform="rotate(-90.30 339.70 1019.70)"/>
<circle cx="339.70" cy="1019.70" r="234.95" fill="none" stroke="#6363c5" stroke-width="9.48" pathLength="360" stroke-dasharray="0 5.56 0.70 43.22 0.69 3.76 0.70 5.50 0.70 38.44 1.30 9.69 0.72 40.69 0.73 9.00 0.70 5.50 0.74 59.66 0.74 0.46 1.34 129.46 0" transform="rotate(-90.30 339.70 1019.70)"/>
<circle cx="339.70" cy="1019.70" r="234.95" fill="none" stroke="#8989cf" stroke-width="9.48" pathLength="360" stroke-dasharray="0 6.67 0.70 38.78 0.69 57.06 1.30 1.02 0.72 11.99 0.70 11.68 0.70 8.33 0.71 6.62 0.70 211.63 0" transform="rotate(-90.30 339.70 1019.70)"/>
<circle cx="339.70" cy="1019.70" r="234.95" fill="none" stroke="#2b2bb5" stroke-width="9.48" pathLength="360" stroke-dasharray="0 9.99 0.68 3.25 0.75 4.00 0.72 54.51 1.30 10.55 1.26 0.42 1.26 0.98 0.70 1.55 4.63 15.43 1.30 3.34 0.72 40.68 0.70 0.42 0.70 12.54 0.74 4.62 0.70 2.10 0.70 0.42 1.82 3.22 1.26 1.54 0.70 3.23 0.71 0.43 0.71 2.69 1.84 2.13 0.71 2.69 1.27 3.20 1.81 2.64 1.25 14.87 0.73 1.63 0.73 3.41 0.73 0.43 0.71 0.43 2.42 3.83 0.71 3.25 1.27 2.12 1.27 0.43 1.27 6.07 0.69 3.16 0.69 0.41 1.30 1.02 2.45 3.44 0.74 0.46 0.74 3.28 0.71 0.43 1.28 1.54 1.26 4.33 0.70 0.98 1.82 0.42 0.70 2.18 0.73 3.39 0.73 3.38 0.72 3.35 0.72 4.49 0.72 4.98 1.27 2.13 0.71 2.64 2.91 2.08 0.74 6.56 0.70 10.14 0.72 2.16 0.72 2.16 0.72 1.01 0.72 2.16 0" transform="rotate(-90.30 339.70 1019.70)"/>
<circle cx="339.70" cy="1019.70" r="234.95" fill="none" stroke="#3535b7" stroke-width="9.48" pathLength="360" stroke-dasharray="0 10.53 1.23 5.16 1.89 33.99 0.70 14.02 0.72 0.44 2.46 0.44 0.72 0.44 1.30 1.02 1.30 10.52 0.70 8.85 0.70 0.42 0.70 60.35 0.70 4.90 1.26 0.98 0.70 7.66 0.74 1.66 0.70 3.22 0.70 13.34 1.27 3.26 1.27 0.43 0.71 0.43 0.71 1.56 0.71 3.23 1.25 6.52 2.44 17.38 0.73 1.59 0.71 28.61 1.30 18.28 1.26 0.42 0.70 7.24 0.73 8.66 2.46 7.94 0.71 7.21 1.25 20.07 0.72 1.01 0.72 2.16 0.72 8.50 0" transform="rotate(-90.30 339.70 1019.70)"/>
<circle cx="339.70" cy="1019.70" r="234.95" fill="none" stroke="#3e3eba" stroke-width="9.48" pathLength="360" stroke-dasharray="0 14.53 1.36 0.44 0.72 39.13 1.27 6.62 0.70 0.42 1.30 1.60 0.72 2.18 0.72 0.44 0.72 3.34 0.72 20.05 0.70 58.11 0.70 3.22 0.70 5.46 0.70 4.62 0.74 28.89 0.71 1.56 1.84 2.13 1.25 3.19 1.25 0.97 0.70 10.58 0.74 62.91 0.70 16.60 0.72 15.36 0.71 0.99 0.71 1.52 0.69 4.29 0.69 13.96 0.72 1.01 0.72 1.01 0.72 1.59 1.29 0.44 0.72 2.16 1.29 0.44 0.72 0.44 1.29 0.01 0" transform="rotate(-90.30 339.70 1019.70)"/>
<circle cx="339.70" cy="1019.70" r="234.95" fill="none" stroke="#5151bf" stroke-width="9.48" pathLength="360" stroke-dasharray="0 19.25 0.72 0.44 0.72 34.48 0.70 0.99 0.70 1.55 0.70 1.55 0.70 14.86 0.72 22.34 0.72 56.32 0.70 2.10 0.70 0.98 0.70 7.34 0.74 1.06 0.74 53.06 0.74 89.46 1.27 0.43 0.71 3.26 0.71 37.83 0" transform="rotate(-90.30 339.70 1019.70)"/>
<circle cx="339.70" cy="1019.70" r="234.95" fill="none" stroke="#ececec" stroke-width="9.48" pathLength="360" stroke-dasharray="0 21.00 1.89 1.61 0.72 92.57 0.70 4.93 0.70 3.80 0.70 4.93 0.70 0.99 0.70 224.05 0" transform="rotate(-90.30 339.70 1019.70)"/>
<circle cx="339.70" cy="1019.70" r="234.95" fill="none" stroke="#e0e0e0" stroke-width="9.48" pathLength="360" stroke-dasharray="0 22.75 0.72 6.87 1.31 102.47 0.70 0.99 0.70 223.49 0" transform="rotate(-90.30 339.70 1019.70)"/>
<circle cx="339.70" cy="1019.70" r="234.95" fill="none" stroke="#afafd7" stroke-width="9.48" pathLength="360" stroke-dasharray="0 23.34 0.72 11.41 0.70 0.98 0.70 6.05 0.70 0.98 0.69 56.46 1.30 2.75 1.30 11.39 1.83 9.43 0.70 0.42 0.70 4.36 0.70 85.69 1.25 135.42 0" transform="rotate(-90.30 339.70 1019.70)"/>
<circle cx="339.70" cy="1019.70" r="234.95" fill="none" stroke="#e2e2e2" stroke-width="9.48" pathLength="360" stroke-dasharray="0 23.92 0.72 0.44 0.72 97.05 0.70 5.49 0.70 3.24 0.70 0.99 0.70 224.61 0" transform="rotate(-90.30 339.70 1019.70)"/>
<circle cx="339.70" cy="1019.70" r="234.95" fill="none" stroke="#d6d6de" stroke-width="9.48" pathLength="360" stroke-dasharray="0 25.67 0.72 0.44 0.72 0.44 0.72 3.37 0.70 3.80 0.70 7.17 0.70 76.56 0.70 3.24 0.70 0.99 0.70 0.42 0.70 93.02 0.70 1.53 0.70 134.86 0" transform="rotate(-90.30 339.70 1019.70)"/>
<circle cx="339.70" cy="1019.70" r="234.95" fill="none" stroke="#ccccdc" stroke-width="9.48" pathLength="360" stroke-dasharray="0 26.26 0.72 0.44 0.72 90.21 0.70 10.55 0.70 92.45 0.70 136.53 0" transform="rotate(-90.30 339.70 1019.70)"/>
<circle cx="339.70" cy="1019.70" r="234.95" fill="none" stroke="#b9b9d9" stroke-width="9.48" pathLength="360" stroke-dasharray="0 28.59 0.72 0.44 0.72 2.18 0.70 0.42 0.70 4.36 0.70 0.98 1.27 3.23 0.70 6.51 0.69 48.08 1.30 18.86 0.70 0.42 0.70 0.99 0.70 5.49 0.70 1.55 0.70 3.24 0.70 84.02 1.25 137.65 0" transform="rotate(-90.30 339.70 1019.70)"/>
<circle cx="339.70" cy="1019.70" r="234.95" fill="none" stroke="#c3c3db" stroke-width="9.48" pathLength="360" stroke-dasharray="0 31.52 0.72 2.67 0.70 0.42 0.70 71.21 0.72 0.44 0.72 15.29 0.70 0.42 1.27 232.49 0" transform="rotate(-90.30 339.70 1019.70)"/>
<circle cx="339.70" cy="1019.70" r="234.95" fill="none" stroke="#4747bd" stroke-width="9.48" pathLength="360" stroke-dasharray="0 53.36 0.70 0.99 0.70 2.11 0.70 3.81 0.70 0.42 0.70 0.42 0.70 1.02 1.30 9.14 0.72 3.28 0.69 1.51 1.24 72.13 1.26 7.70 0.70 4.58 0.74 24.96 1.84 10.03 0.70 3.75 1.25 2.08 0.70 10.76 0.74 85.35 0.72 3.86 0.71 2.13 0.71 26.87 0.72 4.47 0.72 3.89 0.72 1.01 0" transform="rotate(-90.30 339.70 1019.70)"/>
<circle cx="339.70" cy="1019.70" r="234.95" fill="none" stroke="#ffffff" stroke-width="9.48" pathLength="360" stroke-dasharray="0 154.90 1.02 204.08 0" transform="rotate(-90.30 339.70 1019.70)"/>
<circle cx="339.70" cy="1019.70" r="244.85" fill="none" stroke="#2ae05a" stroke-width="9.48"/>
<circle cx="339.70" cy="1019.70" r="244.85" fill="none" stroke="#3be066" stroke-width="9.48" pathLength="360" stroke-dasharray="0 2.23 0.70 7.06 0.68 2.64 1.36 38.13 0.70 2.11 0.70 0.42 1.27 0.42 0.70 2.11 0.70 0.42 0.70 2.11 0.72 0.44 1.88 4.50 0.72 3.34 0.72 3.28 0.69 4.83 0.70 0.42 0.70 25.02 1.30 44.70 1.26 11.38 0.74 1.06 0.74 15.20 1.26 0.42 0.70 6.65 0.71 2.69 1.27 7.71 0.70 3.19 0.70 3.27 1.29 7.31 0.74 3.44 1.32 5.73 0.71 0.43 0.71 1.57 0.71 1.56 0.71 6.08 0.71 9.48 1.79 8.33 0.72 4.66 0.71 16.17 1.26 4.56 0.73 3.39 0.73 11.46 0.71 2.13 0.71 6.62 0.69 2.63 1.80 2.81 1.34 7.45 1.25 6.84 1.29 7.92 0" transform="rotate(-90.30 339.70 1019.70)"/>
<circle cx="339.70" cy="1019.70" r="244.85" fill="none" stroke="#6fe18b" stroke-width="9.48" pathLength="360" stroke-dasharray="0 4.45 0.70 0.42 0.70 26.97 0.70 12.23 0.69 98.61 0.70 4.93 1.32 191.40 1.34 14.86 0" transform="rotate(-90.30 339.70 1019.70)"/>
<circle cx="339.70" cy="1019.70" r="244.85" fill="none" stroke="#67e185" stroke-width="9.48" pathLength="360" stroke-dasharray="0 5.01 0.70 144.20 1.32 2.81 0.73 12.24 1.34 1.06 0.74 56.06 0.74 2.86 0.74 114.46 0.74 14.26 0" transform="rotate(-90.30 339.70 1019.70)"/>
<circle cx="339.70" cy="1019.70" r="244.85" fill="none" stroke="#81e298" stroke-width="9.48" pathLength="360" stroke-dasharray="0 6.12 1.25 28.10 0.70 13.30 1.25 0.97 0.69 57.88 0.72 29.36 1.28 4.39 1.25 2.08 0.70 2.22 0.73 2.81 0.14 204.06 0" transform="rotate(-90.30 339.70 1019.70)"/>
<circle cx="339.70" cy="1019.70" r="244.85" fill="none" stroke="#92e2a4" stroke-width="9.48" pathLength="360" stroke-dasharray="0 7.23 0.19 25.24 0.70 0.42 0.70 7.17 0.70 0.42 0.70 1.55 1.26 92.34 0.71 4.98 0.71 2.64 0.70 6.25 0.40 66.08 0.70 138.20 0" transform="rotate(-90.30 339.70 1019.70)"/>
<circle cx="339.70" cy="1019.70" r="244.85" fill="none" stroke="#ffffff" stroke-width="9.48" pathLength="360" stroke-dasharray="0 7.30 1.72 145.88 1.02 204.08 0" transform="rotate(-90.30 339.70 1019.70)"/>
<circle cx="339.70" cy="1019.70" r="244.85" fill="none" stroke="#89e29e" stroke-width="9.48" pathLength="360" stroke-dasharray="0 8.90 0.14 25.87 0.70 12.75 0.69 1.52 0.69 0.97 0.69 86.27 1.28 1.00 0.71 0.43 1.85 3.76 0.70 211.07 0" transform="rotate(-90.30 339.70 1019.70)"/>
<circle cx="339.70" cy="1019.70" r="244.85" fill="none" stroke="#33e060" stroke-width="9.48" pathLength="360" stroke-dasharray="0 9.44 0.68 0.40 1.23 2.78 0.75 3.97 0.72 33.39 1.83 4.37 1.27 2.11 0.70 0.42 1.27 0.44 0.72 3.34 0.72 0.44 1.30 1.02 0.72 1.60 1.30 0.44 2.46 5.91 0.70 0.42 0.70 0.42 1.26 3.79 0.70 5.52 0.72 12.58 0.72 1.02 1.30 1.02 1.30 45.14 0.70 6.82 1.34 7.50 0.70 4.91 0.70 1.54 0.70 2.66 0.70 0.42 1.26 0.99 1.27 2.13 0.71 3.26 0.71 0.99 0.71 2.69 0.71 5.41 2.36 4.98 1.29 9.16 1.32 4.00 1.32 2.16 0.71 3.28 1.27 6.08 0.71 0.43 0.71 0.43 1.84 0.99 0.71 3.82 1.27 4.81 0.69 3.90 0.72 9.80 0.71 1.55 0.70 0.98 1.26 11.18 0.73 0.45 0.73 1.62 0.73 1.04 0.73 1.03 1.31 1.03 0.72 6.22 0.72 1.58 0.71 3.26 0.71 5.48 0.69 0.41 0.69 3.18 1.34 2.26 0.74 2.34 0.76 10.69 0.72 1.59 1.29 2.74 1.29 2.74 0" transform="rotate(-90.30 339.70 1019.70)"/>
<circle cx="339.70" cy="1019.70" r="244.85" fill="none" stroke="#44e06c" stroke-width="9.48" pathLength="360" stroke-dasharray="0 15.75 0.72 39.71 0.70 0.99 0.70 2.11 0.70 38.46 1.30 59.12 0.70 12.02 0.74 0.46 0.74 0.46 0.74 0.46 0.74 120.98 0.73 1.04 1.31 13.24 1.30 3.26 1.27 39.53 0" transform="rotate(-90.30 339.70 1019.70)"/>
<circle cx="339.70" cy="1019.70" r="244.85" fill="none" stroke="#afe1ba" stroke-width="9.48" pathLength="360" stroke-dasharray="0 21.00 0.72 5.12 0.72 9.60 0.70 2.11 0.70 60.92 0.72 2.17 0.72 1.02 0.72 4.48 0.72 6.79 0.70 11.12 1.83 5.49 0.71 221.22 0" transform="rotate(-90.30 339.70 1019.70)"/>
<circle cx="339.70" cy="1019.70" r="244.85" fill="none" stroke="#a5e2b3" stroke-width="9.48" pathLength="360" stroke-dasharray="0 21.58 1.31 14.83 1.27 4.92 0.70 4.31 0.69 57.18 0.72 3.33 0.72 35.56 0.70 212.18 0" transform="rotate(-90.30 339.70 1019.70)"/>
<circle cx="339.70" cy="1019.70" r="244.85" fill="none" stroke="#c3e1ca" stroke-width="9.48" pathLength="360" stroke-dasharray="0 22.75 0.72 5.12 1.31 1.61 0.72 4.36 0.70 2.11 0.70 4.36 0.70 55.84 0.72 0.44 0.72 2.17 0.72 1.59 0.72 1.59 0.72 19.78 0.70 2.67 0.70 2.67 1.27 83.45 0.70 0.42 0.70 136.53 0" transform="rotate(-90.30 339.70 1019.70)"/>
<circle cx="339.70" cy="1019.70" r="244.85" fill="none" stroke="#ececec" stroke-width="9.48" pathLength="360" stroke-dasharray="0 23.34 0.72 99.93 1.27 2.11 2.95 4.36 2.39 222.92 0" transform="rotate(-90.30 339.70 1019.70)"/>
<circle cx="339.70" cy="1019.70" r="244.85" fill="none" stroke="#e3e3e3" stroke-width="9.48" pathLength="360" stroke-dasharray="0 23.92 0.72 1.03 0.72 333.60 0" transform="rotate(-90.30 339.70 1019.70)"/>
<circle cx="339.70" cy="1019.70" r="244.85" fill="none" stroke="#cce0d1" stroke-width="9.48" pathLength="360" stroke-dasharray="0 24.51 0.72 13.62 0.70 69.56 0.72 7.97 0.70 0.99 0.70 0.99 0.70 0.99 0.70 10.55 0.70 87.39 0.70 0.42 0.70 135.97 0" transform="rotate(-90.30 339.70 1019.70)"/>
<circle cx="339.70" cy="1019.70" r="244.85" fill="none" stroke="#e2e2e2" stroke-width="9.48" pathLength="360" stroke-dasharray="0 25.09 0.72 0.44 0.72 3.37 0.72 95.17 1.27 96.38 0.70 135.42 0" transform="rotate(-90.30 339.70 1019.70)"/>
<circle cx="339.70" cy="1019.70" r="244.85" fill="none" stroke="#9ce2ab" stroke-width="9.48" pathLength="360" stroke-dasharray="0 27.43 1.31 7.30 0.70 5.48 0.70 79.38 0.70 19.05 0.71 217.24 0" transform="rotate(-90.30 339.70 1019.70)"/>
<circle cx="339.70" cy="1019.70" r="244.85" fill="none" stroke="#b9e1c2" stroke-width="9.48" pathLength="360" stroke-dasharray="0 29.76 0.72 0.44 0.72 8.88 1.27 1.55 0.70 58.70 0.72 14.89 0.70 240.93 0" transform="rotate(-90.30 339.70 1019.70)"/>
<circle cx="339.70" cy="1019.70" r="244.85" fill="none" stroke="#78e292" stroke-width="9.48" pathLength="360" stroke-dasharray="0 32.10 0.70 1.55 0.70 11.66 0.69 3.74 0.69 93.07 0.70 3.19 0.70 210.52 0" transform="rotate(-90.30 339.70 1019.70)"/>
<circle cx="339.70" cy="1019.70" r="244.85" fill="none" stroke="#5ee17f" stroke-width="9.48" pathLength="360" stroke-dasharray="0 47.26 1.25 104.34 0.73 72.02 0.74 2.86 0.74 130.06 0" transform="rotate(-90.30 339.70 1019.70)"/>
<circle cx="339.70" cy="1019.70" r="244.85" fill="none" stroke="#4de173" stroke-width="9.48" pathLength="360" stroke-dasharray="0 61.82 0.70 35.59 0.72 69.97 0.74 0.46 0.74 1.66 0.74 1.66 0.74 0.46 0.74 50.06 0.74 0.46 1.34 96.07 0.69 33.90 0" transform="rotate(-90.30 339.70 1019.70)"/>
<circle cx="339.70" cy="1019.70" r="244.85" fill="none" stroke="#55e179" stroke-width="9.48" pathLength="360" stroke-dasharray="0 98.69 0.72 54.03 0.73 14.03 0.74 56.06 0.74 134.26 0" transform="rotate(-90.30 339.70 1019.70)"/>
<circle cx="339.70" cy="1019.70" r="244.85" fill="none" stroke="#d6e0d8" stroke-width="9.48" pathLength="360" stroke-dasharray="0 103.33 0.72 1.59 0.72 13.69 1.27 0.42 0.70 0.99 0.70 8.87 0.70 90.74 0.70 134.86 0" transform="rotate(-90.30 339.70 1019.70)"/>
<circle cx="339.70" cy="1019.70" r="244.85" fill="none" stroke="#e0e0e0" stroke-width="9.48" pathLength="360" stroke-dasharray="0 103.91 0.72 3.33 1.30 15.87 1.27 6.05 0.70 226.86 0" transform="rotate(-90.30 339.70 1019.70)"/>
<circle cx="339.70" cy="1019.70" r="254.75" fill="none" stroke="#298658" stroke-width="9.48"/>
<circle cx="339.70" cy="1019.70" r="254.75" fill="none" stroke="#1f8050" stroke-width="9.48" pathLength="360" stroke-dasharray="0 1.11 0.70 2.64 0.70 2.64 0.70 0.42 0.68 4.34 0.75 1.08 2.47 2.19 3.06 1.03 0.72 3.95 0.72 1.61 0.72 16.68 2.36 3.21 0.70 0.42 1.83 6.62 0.70 1.58 1.88 1.60 0.72 5.08 0.72 1.60 1.30 3.73 1.24 0.41 1.25 0.42 0.70 6.60 0.70 2.11 1.26 0.42 2.47 0.44 1.30 1.02 0.72 1.02 2.45 2.75 0.72 3.34 2.46 2.15 1.83 10.55 1.27 3.80 1.83 3.84 0.71 2.69 4.58 2.22 0.73 1.04 1.32 7.17 1.82 0.98 2.42 1.66 1.34 2.86 0.74 0.46 1.34 6.67 2.94 2.66 2.38 0.42 2.95 0.99 1.27 1.56 1.84 2.69 1.84 3.80 0.70 0.42 1.81 1.53 1.81 3.81 1.29 0.44 0.72 4.33 2.54 3.45 2.51 1.04 1.32 0.45 0.73 1.59 0.71 3.85 0.71 0.43 0.71 1.56 0.71 1.56 1.27 5.52 0.71 0.99 0.71 2.12 2.37 0.96 3.44 4.48 0.72 1.06 0.74 0.46 0.74 0.46 1.91 2.71 1.85 0.99 3.49 2.10 1.26 0.42 1.82 1.54 0.70 1.01 2.49 2.80 1.31 0.45 0.73 1.04 0.72 7.41 1.88 0.44 1.86 4.96 1.84 0.99 0.69 0.97 1.25 2.08 2.36 1.06 0.74 2.88 2.62 0.42 1.25 3.79 4.80 1.59 5.32 0.44 1.29 2.16 0" transform="rotate(-90.30 339.70 1019.70)"/>
<circle cx="339.70" cy="1019.70" r="264.65" fill="none" stroke="#983535" stroke-width="9.48"/>
<circle cx="339.70" cy="1019.70" r="264.65" fill="none" stroke="#c08a8a" stroke-width="9.48" pathLength="360" stroke-dasharray="0 0.00 0.70 0.97 0.70 2.64 0.70 0.97 0.70 15.97 0.72 13.10 0.70 2.11 0.70 6.58 1.25 3.18 0.69 85.11 1.28 1.00 0.71 13.54 0.73 14.04 0.74 2.26 0.74 1.66 0.74 1.06 0.74 46.59 0.70 0.42 0.70 2.26 0.74 87.66 0.71 2.69 0.71 26.85 1.29 2.16 0.72 3.89 0.72 0.44 0.72 2.74 0.72 0.01 0" transform="rotate(-90.30 339.70 1019.70)"/>
<circle cx="339.70" cy="1019.70" r="264.65" fill="none" stroke="#bb8181" stroke-width="9.48" pathLength="360" stroke-dasharray="0 0.56 0.70 4.87 0.70 1.53 0.70 24.75 0.70 0.98 0.70 2.11 1.27 4.36 0.70 3.75 0.69 0.41 0.69 0.97 0.69 0.41 0.69 29.51 1.24 15.59 0.72 43.20 0.71 7.77 0.73 17.60 0.74 0.46 0.74 2.86 1.34 49.46 0.74 2.26 1.34 86.99 0.71 0.99 0.71 0.43 0.71 2.69 0.71 24.03 0.72 9.65 1.29 0.44 0" transform="rotate(-90.30 339.70 1019.70)"/>
<circle cx="339.70" cy="1019.70" r="264.65" fill="none" stroke="#b26e6e" stroke-width="9.48" pathLength="360" stroke-dasharray="0 1.11 0.70 5.42 1.25 23.62 1.26 3.23 0.70 43.50 1.79 17.27 0.72 51.68 1.32 18.82 0.74 40.58 0.70 23.08 1.85 2.71 0.71 68.40 0.72 9.01 0.71 0.43 1.27 5.42 0.69 16.18 1.29 1.59 0.72 0.44 0.72 9.65 0" transform="rotate(-90.30 339.70 1019.70)"/>
<circle cx="339.70" cy="1019.70" r="264.65" fill="none" stroke="#cba7a7" stroke-width="9.48" pathLength="360" stroke-dasharray="0 2.23 0.70 26.26 0.72 11.76 0.70 77.69 0.70 17.88 1.28 3.84 0.71 6.02 0.73 70.44 1.25 137.09 0" transform="rotate(-90.30 339.70 1019.70)"/>
<circle cx="339.70" cy="1019.70" r="264.65" fill="none" stroke="#ceb0b0" stroke-width="9.48" pathLength="360" stroke-dasharray="0 2.78 1.25 21.06 0.72 1.03 0.72 14.66 0.70 59.25 1.30 22.21 0.70 3.24 0.70 10.59 0.71 3.28 0.70 0.97 0.70 0.42 0.70 0.42 1.84 209.37 0" transform="rotate(-90.30 339.70 1019.70)"/>
<circle cx="339.70" cy="1019.70" r="264.65" fill="none" stroke="#c89d9d" stroke-width="9.48" pathLength="360" stroke-dasharray="0 3.89 0.70 29.76 0.70 11.10 1.25 2.63 0.69 57.23 0.72 2.75 0.72 29.91 1.28 80.55 0.70 5.22 0.74 129.46 0" transform="rotate(-90.30 339.70 1019.70)"/>
<circle cx="339.70" cy="1019.70" r="264.65" fill="none" stroke="#c49494" stroke-width="9.48" pathLength="360" stroke-dasharray="0 4.45 0.70 20.53 0.72 11.33 0.70 4.92 0.70 1.55 0.69 33.41 0.69 63.94 0.71 2.08 0.70 7.39 0.73 13.46 0.74 52.63 0.70 2.73 0.74 96.79 0.71 35.56 0" transform="rotate(-90.30 339.70 1019.70)"/>
<circle cx="339.70" cy="1019.70" r="264.65" fill="none" stroke="#b77878" stroke-width="9.48" pathLength="360" stroke-dasharray="0 5.56 0.70 14.16 0.72 13.77 0.70 0.42 0.70 2.67 0.70 4.92 0.70 3.18 0.69 0.97 0.69 28.97 0.69 2.61 1.79 12.78 1.30 54.03 0.73 13.43 0.74 2.26 0.74 1.66 1.34 2.26 0.74 47.66 0.74 1.06 0.74 0.46 0.74 87.63 0.71 0.43 0.71 7.20 1.80 2.63 0.69 20.25 0.72 3.89 0.72 1.59 0.72 1.59 0" transform="rotate(-90.30 339.70 1019.70)"/>
<circle cx="339.70" cy="1019.70" r="264.65" fill="none" stroke="#a14848" stroke-width="9.48" pathLength="360" stroke-dasharray="0 8.90 1.23 0.95 0.68 6.91 0.72 35.10 0.70 0.99 0.70 2.68 0.70 2.11 0.70 6.17 0.72 3.34 1.30 3.92 1.30 9.84 0.70 1.55 0.70 0.42 0.70 1.55 0.70 20.64 0.72 41.24 0.70 2.10 0.70 0.98 0.70 0.42 1.26 0.98 0.70 21.27 0.70 16.25 0.71 0.99 0.70 1.53 0.70 0.97 0.70 0.42 1.25 4.92 1.86 19.69 0.71 29.20 0.72 2.19 0.74 2.26 0.74 3.31 0.71 0.43 0.71 0.43 1.83 1.54 1.26 0.42 0.70 0.98 1.82 2.10 0.70 2.71 0.73 0.45 0.73 0.45 0.73 2.80 0.73 2.21 0.72 1.61 0.72 0.44 0.72 0.44 1.30 3.33 1.30 12.26 0.69 2.63 0.69 2.86 0.74 1.08 1.38 0.48 0.76 21.06 0" transform="rotate(-90.30 339.70 1019.70)"/>
<circle cx="339.70" cy="1019.70" r="264.65" fill="none" stroke="#9c3e3e" stroke-width="9.48" pathLength="360" stroke-dasharray="0 10.53 0.68 0.40 1.23 39.96 0.70 1.55 0.70 0.99 1.83 0.42 0.70 0.99 0.70 2.11 0.70 0.99 1.30 1.60 1.30 0.44 1.30 1.02 1.30 3.34 1.88 7.63 0.70 3.23 0.70 1.55 0.70 1.55 0.70 0.42 0.70 20.65 0.72 41.78 0.70 22.39 0.70 1.54 0.70 7.15 1.84 3.82 0.71 1.56 1.84 2.13 0.71 2.67 1.25 0.42 0.70 0.97 0.70 4.30 1.87 32.75 0.71 13.33 1.24 0.41 0.72 3.33 1.30 4.06 1.31 1.57 0.71 7.74 0.70 9.51 0.73 0.45 0.73 2.80 1.31 1.61 1.31 1.03 0.72 5.07 0.72 20.90 0.74 1.72 0.76 21.68 0" transform="rotate(-90.30 339.70 1019.70)"/>
<circle cx="339.70" cy="1019.70" r="264.65" fill="none" stroke="#d6c4c4" stroke-width="9.48" pathLength="360" stroke-dasharray="0 12.70 0.75 1.69 0.75 5.69 0.72 0.44 0.72 3.95 0.72 0.44 0.72 0.44 1.31 10.03 0.70 0.98 0.70 66.20 0.72 0.44 0.72 6.24 0.70 26.95 0.70 213.85 0" transform="rotate(-90.30 339.70 1019.70)"/>
<circle cx="339.70" cy="1019.70" r="264.65" fill="none" stroke="#d2baba" stroke-width="9.48" pathLength="360" stroke-dasharray="0 13.31 0.75 0.47 0.75 8.64 0.72 1.61 0.72 13.56 0.70 67.29 1.30 9.66 0.70 8.87 0.70 6.05 0.70 3.83 0.71 0.43 0.71 8.89 0.73 2.81 0.73 65.75 0.70 138.20 0" transform="rotate(-90.30 339.70 1019.70)"/>
<circle cx="339.70" cy="1019.70" r="264.65" fill="none" stroke="#d9cdcd" stroke-width="9.48" pathLength="360" stroke-dasharray="0 13.92 0.75 7.50 0.72 8.04 0.72 72.83 0.72 13.16 0.70 3.80 0.70 1.55 0.70 0.42 0.70 5.49 0.70 3.24 0.70 11.16 0.70 211.07 0" transform="rotate(-90.30 339.70 1019.70)"/>
<circle cx="339.70" cy="1019.70" r="264.65" fill="none" stroke="#a55252" stroke-width="9.48" pathLength="360" stroke-dasharray="0 15.75 1.31 0.44 1.31 0.44 0.72 33.95 0.70 8.31 0.70 0.42 0.70 9.70 0.72 81.16 0.70 3.78 0.70 0.42 1.26 2.10 0.70 41.60 0.70 2.08 0.70 29.26 0.71 26.32 0.72 0.44 0.72 3.95 0.74 1.06 0.74 4.48 0.71 3.25 1.26 0.98 0.70 6.57 0.70 1.01 0.73 0.45 0.73 2.80 0.73 5.72 0.72 1.60 0.72 3.33 0.72 1.60 0.72 2.13 0.71 5.53 0.69 3.18 0.69 1.52 0.69 2.21 0.74 1.66 0.76 5.12 0.70 0.42 0.70 16.62 0" transform="rotate(-90.30 339.70 1019.70)"/>
<circle cx="339.70" cy="1019.70" r="264.65" fill="none" stroke="#ae6565" stroke-width="9.48" pathLength="360" stroke-dasharray="0 16.92 0.72 15.58 0.70 122.99 1.26 5.46 0.70 2.66 0.74 0.46 0.74 45.89 1.81 22.57 0.71 1.57 0.71 78.13 0.71 0.43 0.71 2.68 0.69 1.52 0.69 1.52 0.69 1.52 0.74 0.46 0.74 5.36 0.70 0.42 0.70 2.64 0.70 5.12 0.72 1.59 1.29 1.59 0.72 1.59 0.72 2.74 0" transform="rotate(-90.30 339.70 1019.70)"/>
<circle cx="339.70" cy="1019.70" r="264.65" fill="none" stroke="#aa5b5b" stroke-width="9.48" pathLength="360" stroke-dasharray="0 19.83 0.72 23.92 0.70 55.26 0.72 56.88 0.70 1.54 0.70 4.90 0.70 46.59 0.70 0.42 0.70 25.95 0.71 1.00 0.71 24.62 0.72 0.44 0.72 2.17 0.74 1.06 1.34 6.22 0.71 1.55 0.70 10.48 0.73 5.15 1.31 8.60 0.72 0.44 1.30 19.05 0.74 1.06 0.74 4.72 0.70 0.42 1.25 0.42 0.70 9.68 1.87 2.74 0.72 2.16 0" transform="rotate(-90.30 339.70 1019.70)"/>
<circle cx="339.70" cy="1019.70" r="264.65" fill="none" stroke="#e0e0e0" stroke-width="9.48" pathLength="360" stroke-dasharray="0 21.00 0.72 79.87 0.72 1.02 1.30 16.55 1.83 236.99 0" transform="rotate(-90.30 339.70 1019.70)"/>
<circle cx="339.70" cy="1019.70" r="264.65" fill="none" stroke="#e3e3e3" stroke-width="9.48" pathLength="360" stroke-dasharray="0 24.51 0.72 81.57 0.72 23.23 0.70 0.42 0.70 4.36 0.70 222.36 0" transform="rotate(-90.30 339.70 1019.70)"/>
<circle cx="339.70" cy="1019.70" r="264.65" fill="none" stroke="#e2e2e2" stroke-width="9.48" pathLength="360" stroke-dasharray="0 28.01 0.72 72.28 0.72 3.33 0.72 0.44 0.72 16.49 0.70 8.87 0.70 0.42 0.70 225.17 0" transform="rotate(-90.30 339.70 1019.70)"/>
<circle cx="339.70" cy="1019.70" r="264.65" fill="none" stroke="#ececec" stroke-width="9.48" pathLength="360" stroke-dasharray="0 31.52 0.72 73.40 0.72 12.57 0.70 4.36 1.27 1.55 1.83 1.55 0.70 0.42 0.70 1.55 0.70 0.42 0.70 224.61 0" transform="rotate(-90.30 339.70 1019.70)"/>
<circle cx="339.70" cy="1019.70" r="264.65" fill="none" stroke="#932c2c" stroke-width="9.48" pathLength="360" stroke-dasharray="0 61.25 0.70 4.40 0.72 0.44 0.72 2.76 0.72 15.72 0.70 6.04 0.70 1.55 0.70 0.42 0.70 14.33 0.72 0.44 2.46 61.56 1.82 0.42 1.26 5.47 1.26 1.54 2.38 5.51 0.71 1.56 1.27 5.52 0.71 12.75 1.29 9.75 0.73 0.45 3.69 1.04 0.73 5.56 1.27 0.99 0.71 0.43 0.71 0.43 0.71 0.43 0.71 0.99 0.71 0.43 0.71 0.43 0.71 1.56 2.40 0.43 2.40 0.43 0.71 1.51 1.79 1.51 0.69 11.00 0.71 81.35 0" transform="rotate(-90.30 339.70 1019.70)"/>
<circle cx="339.70" cy="1019.70" r="264.65" fill="none" stroke="#8f2222" stroke-width="9.48" pathLength="360" stroke-dasharray="0 75.64 0.72 12.20 0.70 22.74 0.72 64.48 0.70 3.22 1.26 49.20 0.73 17.11 1.27 1.56 0.71 0.43 1.84 35.11 1.26 68.41 0" transform="rotate(-90.30 339.70 1019.70)"/>
<circle cx="339.70" cy="1019.70" r="264.65" fill="none" stroke="#dcd6d6" stroke-width="9.48" pathLength="360" stroke-dasharray="0 107.38 0.72 2.17 0.72 9.63 0.70 7.18 0.70 6.05 0.70 10.06 0.70 213.29 0" transform="rotate(-90.30 339.70 1019.70)"/>
<circle cx="339.70" cy="1019.70" r="264.65" fill="none" stroke="#ffffff" stroke-width="9.48" pathLength="360" stroke-dasharray="0 343.80 1.94 14.26 0" transform="rotate(-90.30 339.70 1019.70)"/>
<circle cx="339.70" cy="1019.70" r="274.55" fill="none" stroke="#e1ddd1" stroke-width="9.48" pathLength="360" stroke-dasharray="0 89.12 0.70 4.92 1.26 3.85 0.72 87.84 0.70 10.02 0.71 113.07 1.30 45.80 0" transform="rotate(-90.30 339.70 1019.70)"/>
<circle cx="339.70" cy="1019.70" r="274.55" fill="none" stroke="#e0ded8" stroke-width="9.48" pathLength="360" stroke-dasharray="0 89.68 0.70 3.79 0.70 89.05 0.70 13.93 0.71 110.17 1.30 49.27 0" transform="rotate(-90.30 339.70 1019.70)"/>
<circle cx="339.70" cy="1019.70" r="274.55" fill="none" stroke="#e2d8ba" stroke-width="9.48" pathLength="360" stroke-dasharray="0 90.25 0.70 0.42 0.70 0.42 0.70 89.05 0.70 1.54 1.26 1.54 0.70 172.01 0" transform="rotate(-90.30 339.70 1019.70)"/>
<circle cx="339.70" cy="1019.70" r="274.55" fill="none" stroke="#e4d6ab" stroke-width="9.48" pathLength="360" stroke-dasharray="0 90.81 0.70 268.49 0" transform="rotate(-90.30 339.70 1019.70)"/>
<circle cx="339.70" cy="1019.70" r="274.55" fill="none" stroke="#e2dac2" stroke-width="9.48" pathLength="360" stroke-dasharray="0 91.93 0.70 0.42 0.70 91.85 0.70 3.22 0.70 4.36 0.71 4.96 0.71 159.03 0" transform="rotate(-90.30 339.70 1019.70)"/>
<circle cx="339.70" cy="1019.70" r="274.55" fill="none" stroke="#e2dcca" stroke-width="9.48" pathLength="360" stroke-dasharray="0 100.44 0.72 81.65 1.26 2.66 0.70 0.42 0.70 0.42 0.70 10.02 0.71 0.43 1.27 157.90 0" transform="rotate(-90.30 339.70 1019.70)"/>
<circle cx="339.70" cy="1019.70" r="274.55" fill="none" stroke="#e4d4a4" stroke-width="9.48" pathLength="360" stroke-dasharray="0 195.17 0.71 164.13 0" transform="rotate(-90.30 339.70 1019.70)"/>
<circle cx="339.70" cy="1019.70" r="274.55" fill="none" stroke="#e3d7b3" stroke-width="9.48" pathLength="360" stroke-dasharray="0 195.73 2.97 161.30 0" transform="rotate(-90.30 339.70 1019.70)"/>
<circle cx="339.70" cy="1019.70" r="274.55" fill="none" stroke="#e0e0e0" stroke-width="9.48" pathLength="360" stroke-dasharray="0 259.04 0.71 49.11 0.72 2.75 0.72 1.02 0.72 45.22 0" transform="rotate(-90.30 339.70 1019.70)"/>
<circle cx="339.70" cy="1019.70" r="274.55" fill="none" stroke="#e2e2e2" stroke-width="9.48" pathLength="360" stroke-dasharray="0 259.60 0.71 46.81 0.72 2.75 0.72 0.44 0.72 47.53 0" transform="rotate(-90.30 339.70 1019.70)"/>
<circle cx="339.70" cy="1019.70" r="274.55" fill="none" stroke="#e8e8e8" stroke-width="9.48" pathLength="360" stroke-dasharray="0 305.37 0.72 53.91 0" transform="rotate(-90.30 339.70 1019.70)"/>
<circle cx="339.70" cy="1019.70" r="274.55" fill="none" stroke="#e6e6e6" stroke-width="9.48" pathLength="360" stroke-dasharray="0 305.95 0.72 53.33 0" transform="rotate(-90.30 339.70 1019.70)"/>
<circle cx="339.70" cy="1019.70" r="274.55" fill="none" stroke="#e3e3e3" stroke-width="9.48" pathLength="360" stroke-dasharray="0 306.53 0.72 52.74 0" transform="rotate(-90.30 339.70 1019.70)"/>
<circle cx="339.70" cy="1019.70" r="274.55" fill="none" stroke="#e5e5e5" stroke-width="9.48" pathLength="360" stroke-dasharray="0 311.17 0.72 2.75 0.72 44.64 0" transform="rotate(-90.30 339.70 1019.70)"/>
<path d="M337.34,750.11L339.24,750.10L339.40,839.20L338.10,839.21ZM336.74,740.22L339.74,740.20L339.79,750.10L336.79,750.12ZM379.08,752.99L380.95,753.27L367.33,841.33L366.05,841.13ZM380.01,743.12L382.98,743.57L381.50,753.36L378.53,752.91ZM396.66,756.19L398.52,756.59L379.09,843.55L377.82,843.27ZM398.25,746.40L401.18,747.05L399.06,756.72L396.13,756.07ZM410.60,759.59L412.44,760.10L388.41,845.90L387.16,845.55ZM412.71,749.90L415.60,750.70L412.97,760.25L410.07,759.45ZM434.11,767.17L435.88,767.84L404.11,851.08L402.89,850.62ZM437.09,757.72L439.90,758.78L436.40,768.04L433.59,766.98ZM480.96,790.07L482.57,791.07L435.37,866.64L434.26,865.95ZM485.71,781.37L488.26,782.95L483.04,791.36L480.49,789.78ZM530.66,829.39L532.00,830.74L468.46,893.20L467.54,892.28ZM537.31,822.04L539.42,824.17L532.38,831.13L530.27,829.00ZM553.01,854.83L554.17,856.33L483.30,910.33L482.50,909.30ZM560.53,848.36L562.35,850.74L554.50,856.77L552.67,854.39ZM583.44,904.48L584.24,906.20L503.43,943.72L502.88,942.54ZM592.17,899.78L593.44,902.50L584.47,906.70L583.20,903.98ZM604.52,969.17L604.87,971.04L517.24,987.14L517.00,985.86ZM614.15,966.81L614.70,969.76L604.97,971.58L604.42,968.63ZM590.54,1118.50L589.84,1120.27L507.17,1087.04L507.65,1085.83ZM599.94,1121.65L598.83,1124.44L589.64,1120.78L590.74,1117.99ZM579.28,1143.34L578.40,1145.03L499.50,1103.62L500.10,1102.47ZM588.31,1147.43L586.92,1150.09L578.14,1145.52L579.53,1142.85ZM523.57,1216.87L522.18,1218.16L461.86,1152.58L462.82,1151.70ZM530.70,1223.76L528.50,1225.79L521.77,1218.53L523.98,1216.49ZM496.65,1238.91L495.10,1240.01L443.73,1167.21L444.79,1166.45ZM502.83,1246.66L500.38,1248.39L494.65,1240.32L497.09,1238.59ZM476.95,1251.75L475.31,1252.71L430.48,1175.71L431.60,1175.05ZM482.43,1260.01L479.84,1261.53L474.83,1252.99L477.42,1251.47ZM452.37,1264.63L450.64,1265.42L413.96,1184.22L415.14,1183.68ZM456.97,1273.41L454.24,1274.65L450.13,1265.64L452.86,1264.40ZM402.65,1281.85L400.80,1282.29L380.59,1195.51L381.86,1195.21ZM405.46,1291.35L402.54,1292.04L400.26,1282.41L403.18,1281.72ZM377.70,1286.61L375.81,1286.87L363.86,1198.58L365.15,1198.40ZM379.60,1296.34L376.63,1296.75L375.27,1286.94L378.24,1286.53ZM355.23,1288.85L353.33,1288.96L348.81,1199.97L350.11,1199.90ZM356.31,1298.71L353.32,1298.87L352.78,1288.98L355.78,1288.82ZM281.82,1283.01L279.96,1282.60L299.69,1195.71L300.96,1195.99ZM280.19,1292.79L277.27,1292.14L279.43,1282.48L282.35,1283.13ZM181.24,1237.82L179.71,1236.69L232.57,1164.97L233.62,1165.74ZM175.84,1246.13L173.42,1244.36L179.26,1236.37L181.69,1238.14ZM164.26,1224.41L162.82,1223.16L221.27,1155.91L222.25,1156.76ZM158.21,1232.26L155.94,1230.30L162.41,1222.80L164.68,1224.76ZM150.74,1212.00L149.39,1210.66L212.28,1147.54L213.20,1148.46ZM144.17,1219.42L142.04,1217.31L149.00,1210.27L151.13,1212.38ZM133.48,1193.36L132.26,1191.90L200.81,1134.98L201.64,1135.98ZM126.24,1200.13L124.32,1197.83L131.91,1191.48L133.84,1193.78ZM113.60,1166.54L112.57,1164.95L187.63,1116.93L188.33,1118.02ZM105.58,1172.37L103.95,1169.84L112.27,1164.48L113.90,1167.00ZM100.13,1143.36L99.27,1141.67L178.72,1101.35L179.31,1102.50ZM91.57,1148.36L90.21,1145.69L99.02,1141.18L100.39,1143.85ZM73.57,1062.81L73.27,1060.94L161.32,1047.29L161.53,1048.58ZM63.88,1064.90L63.41,1061.94L73.19,1060.39L73.66,1063.36ZM70.66,1037.11L70.55,1035.21L159.50,1030.07L159.58,1031.37ZM60.82,1038.26L60.63,1035.27L70.52,1034.66L70.70,1037.66ZM70.19,1012.65L70.25,1010.75L159.30,1013.70L159.26,1014.99ZM60.28,1012.91L60.37,1009.91L70.27,1010.20L70.18,1013.20ZM71.73,990.12L71.94,988.24L160.44,998.62L160.29,999.91ZM61.83,989.55L62.17,986.57L72.01,987.69L71.67,990.67ZM75.99,963.66L76.39,961.80L163.41,980.92L163.14,982.19ZM66.20,962.10L66.83,959.17L76.51,961.26L75.88,964.19ZM93.98,908.76L94.77,907.03L175.72,944.26L175.18,945.44ZM84.75,905.16L85.99,902.43L95.00,906.54L93.76,909.27ZM115.40,870.12L116.46,868.54L190.25,918.49L189.52,919.57ZM106.88,865.06L108.55,862.57L116.77,868.09L115.10,870.58ZM124.95,856.71L126.10,855.20L196.70,909.55L195.91,910.59ZM116.75,851.13L118.58,848.75L126.44,854.76L124.62,857.15ZM150.06,828.07L151.41,826.74L213.65,890.50L212.72,891.41ZM142.73,821.40L144.87,819.30L151.81,826.36L149.67,828.46ZM180.47,802.15L182.00,801.03L234.13,873.29L233.08,874.06ZM174.20,794.46L176.63,792.70L182.45,800.71L180.02,802.47ZM208.99,783.91L210.65,782.99L253.31,861.21L252.17,861.84ZM203.74,775.50L206.37,774.05L211.14,782.73L208.51,784.17ZM226.61,774.97L228.34,774.18L265.15,855.31L263.97,855.85ZM221.99,766.20L224.72,764.95L228.84,773.95L226.11,775.20ZM240.01,769.21L241.78,768.51L274.15,851.52L272.94,852.00ZM235.87,760.20L238.66,759.10L242.29,768.31L239.50,769.41ZM262.22,761.47L264.04,760.93L289.06,846.45L287.81,846.82ZM258.88,752.14L261.76,751.29L264.57,760.78L261.69,761.63ZM270.37,759.17L272.21,758.69L294.53,844.94L293.27,845.27ZM267.32,749.73L270.23,748.97L272.74,758.55L269.84,759.31Z" fill="#000"/>
<circle cx="339.70" cy="1019.70" r="279.50" fill="none" stroke="#000" stroke-width="1.00"/>
<circle cx="339.70" cy="1019.70" r="180.50" fill="none" stroke="#000" stroke-width="1.25"/>
<line x1="360.7" y1="736.7" x2="350.7" y2="721.9" stroke="#666" stroke-width="0.7"/>
<text x="340.9" y="719.4" textLength="20.6" lengthAdjust="spacingAndGlyphs" font-size="9.2" class="gl">espF</text>
<line x1="392.1" y1="740.8" x2="383.5" y2="723.6" stroke="#666" stroke-width="0.7"/>
<text x="365.0" y="722.3" textLength="39.5" lengthAdjust="spacingAndGlyphs" font-size="9.2" class="gl">ECs4551</text>
<line x1="408.4" y1="743.7" x2="419.8" y2="731.2" stroke="#666" stroke-width="0.7"/>
<text x="410.7" y="730.3" textLength="20.0" lengthAdjust="spacingAndGlyphs" font-size="9.2" class="gl">escF</text>
<line x1="428.0" y1="751.3" x2="445.6" y2="740.4" stroke="#666" stroke-width="0.7"/>
<text x="433.2" y="737.9" textLength="27.3" lengthAdjust="spacingAndGlyphs" font-size="9.2" class="gl">cesD2</text>
<line x1="465.6" y1="764.4" x2="472.0" y2="750.4" stroke="#666" stroke-width="0.7"/>
<text x="472.5" y="754.2" textLength="21.9" lengthAdjust="spacingAndGlyphs" font-size="9.2" class="gl">espB</text>
<line x1="516.6" y1="797.5" x2="526.0" y2="784.8" stroke="#666" stroke-width="0.7"/>
<text x="526.0" y="788.6" textLength="22.9" lengthAdjust="spacingAndGlyphs" font-size="9.2" class="gl">espD</text>
<line x1="553.5" y1="832.7" x2="564.5" y2="821.8" stroke="#666" stroke-width="0.7"/>
<text x="565.0" y="825.6" textLength="21.6" lengthAdjust="spacingAndGlyphs" font-size="9.2" class="gl">espA</text>
<line x1="582.0" y1="871.4" x2="595.0" y2="862.5" stroke="#666" stroke-width="0.7"/>
<text x="595.6" y="866.3" textLength="20.3" lengthAdjust="spacingAndGlyphs" font-size="9.2" class="gl">sepL</text>
<line x1="609.6" y1="932.1" x2="624.1" y2="926.2" stroke="#666" stroke-width="0.7"/>
<text x="624.9" y="928.8" textLength="21.6" lengthAdjust="spacingAndGlyphs" font-size="9.2" class="gl">escD</text>
<line x1="622.5" y1="1046.7" x2="636.8" y2="1047.6" stroke="#666" stroke-width="0.7"/>
<text x="637.7" y="1049.4" textLength="16.0" lengthAdjust="spacingAndGlyphs" font-size="9.2" class="gl">eae</text>
<line x1="598.4" y1="1138.6" x2="610.9" y2="1143.9" stroke="#666" stroke-width="0.7"/>
<text x="611.8" y="1146.2" textLength="20.1" lengthAdjust="spacingAndGlyphs" font-size="9.2" class="gl">cesT</text>
<line x1="564.5" y1="1192.1" x2="577.0" y2="1200.1" stroke="#666" stroke-width="0.7"/>
<text x="577.4" y="1202.8" textLength="10.0" lengthAdjust="spacingAndGlyphs" font-size="9.2" class="gl">tir</text>
<line x1="518.1" y1="1239.8" x2="528.3" y2="1249.5" stroke="#666" stroke-width="0.7"/>
<text x="528.8" y="1253.4" textLength="19.1" lengthAdjust="spacingAndGlyphs" font-size="9.2" class="gl">map</text>
<line x1="494.4" y1="1258.4" x2="502.3" y2="1266.1" stroke="#666" stroke-width="0.7"/>
<text x="502.3" y="1271.9" textLength="20.9" lengthAdjust="spacingAndGlyphs" font-size="9.2" class="gl">cesF</text>
<line x1="470.5" y1="1273.0" x2="476.8" y2="1283.2" stroke="#666" stroke-width="0.7"/>
<text x="476.8" y="1287.7" textLength="22.7" lengthAdjust="spacingAndGlyphs" font-size="9.2" class="gl">espH</text>
<line x1="431.5" y1="1290.3" x2="435.3" y2="1300.5" stroke="#666" stroke-width="0.7"/>
<text x="425.1" y="1309.4" textLength="22.9" lengthAdjust="spacingAndGlyphs" font-size="9.2" class="gl">sepQ</text>
<line x1="394.0" y1="1299.2" x2="402.2" y2="1309.4" stroke="#666" stroke-width="0.7"/>
<text x="384.3" y="1317.0" textLength="39.5" lengthAdjust="spacingAndGlyphs" font-size="9.2" class="gl">ECs4566</text>
<line x1="367.5" y1="1302.6" x2="360.5" y2="1315.3" stroke="#666" stroke-width="0.7"/>
<text x="341.7" y="1322.8" textLength="38.4" lengthAdjust="spacingAndGlyphs" font-size="9.2" class="gl">ECs4567</text>
<line x1="316.5" y1="1303.5" x2="316.2" y2="1315.3" stroke="#666" stroke-width="0.7"/>
<text x="304.4" y="1322.8" textLength="21.9" lengthAdjust="spacingAndGlyphs" font-size="9.2" class="gl">escN</text>
<line x1="222.6" y1="1278.3" x2="217.5" y2="1290.0" stroke="#666" stroke-width="0.7"/>
<text x="204.9" y="1297.0" textLength="21.0" lengthAdjust="spacingAndGlyphs" font-size="9.2" class="gl">escV</text>
<line x1="163.1" y1="1242.1" x2="155.6" y2="1250.5" stroke="#666" stroke-width="0.7"/>
<text x="135.2" y="1254.0" textLength="19.5" lengthAdjust="spacingAndGlyphs" font-size="9.2" class="gl">mpc</text>
<line x1="147.1" y1="1228.8" x2="137.9" y2="1239.1" stroke="#666" stroke-width="0.7"/>
<text x="115.0" y="1242.1" textLength="21.7" lengthAdjust="spacingAndGlyphs" font-size="9.2" class="gl">espZ</text>
<line x1="131.0" y1="1212.7" x2="121.2" y2="1221.9" stroke="#666" stroke-width="0.7"/>
<text x="81.7" y="1223.7" textLength="39.0" lengthAdjust="spacingAndGlyphs" font-size="9.2" class="gl">ECs4572</text>
<line x1="110.4" y1="1188.6" x2="100.5" y2="1195.5" stroke="#666" stroke-width="0.7"/>
<text x="82.2" y="1198.9" textLength="17.9" lengthAdjust="spacingAndGlyphs" font-size="9.2" class="gl">escJ</text>
<line x1="93.7" y1="1161.8" x2="81.7" y2="1168.7" stroke="#666" stroke-width="0.7"/>
<text x="58.3" y="1171.4" textLength="23.4" lengthAdjust="spacingAndGlyphs" font-size="9.2" class="gl">sepD</text>
<line x1="69.4" y1="1108.3" x2="57.1" y2="1111.6" stroke="#666" stroke-width="0.7"/>
<text x="35.0" y="1113.9" textLength="21.4" lengthAdjust="spacingAndGlyphs" font-size="9.2" class="gl">escC</text>
<line x1="57.1" y1="1050.9" x2="43.7" y2="1051.5" stroke="#666" stroke-width="0.7"/>
<text x="21.2" y="1053.5" textLength="21.9" lengthAdjust="spacingAndGlyphs" font-size="9.2" class="gl">cesD</text>
<line x1="55.6" y1="1024.0" x2="42.6" y2="1024.0" stroke="#666" stroke-width="0.7"/>
<text x="23.2" y="1026.3" textLength="18.4" lengthAdjust="spacingAndGlyphs" font-size="9.2" class="gl">glrA</text>
<line x1="56.4" y1="999.0" x2="43.1" y2="998.5" stroke="#666" stroke-width="0.7"/>
<text x="24.3" y="1000.8" textLength="17.9" lengthAdjust="spacingAndGlyphs" font-size="9.2" class="gl">grlR</text>
<line x1="59.1" y1="973.4" x2="49.9" y2="972.0" stroke="#666" stroke-width="0.7"/>
<text x="9.8" y="972.4" textLength="39.1" lengthAdjust="spacingAndGlyphs" font-size="9.2" class="gl">ECs4579</text>
<line x1="69.9" y1="929.9" x2="58.1" y2="926.9" stroke="#666" stroke-width="0.7"/>
<text x="35.2" y="926.9" textLength="21.4" lengthAdjust="spacingAndGlyphs" font-size="9.2" class="gl">escU</text>
<line x1="92.3" y1="881.0" x2="80.5" y2="874.9" stroke="#666" stroke-width="0.7"/>
<text x="58.7" y="875.5" textLength="20.4" lengthAdjust="spacingAndGlyphs" font-size="9.2" class="gl">escT</text>
<line x1="109.6" y1="853.5" x2="99.4" y2="847.4" stroke="#666" stroke-width="0.7"/>
<text x="77.0" y="846.7" textLength="21.0" lengthAdjust="spacingAndGlyphs" font-size="9.2" class="gl">escS</text>
<line x1="127.4" y1="830.6" x2="117.8" y2="823.9" stroke="#666" stroke-width="0.7"/>
<text x="95.4" y="822.9" textLength="21.3" lengthAdjust="spacingAndGlyphs" font-size="9.2" class="gl">escR</text>
<line x1="157.2" y1="803.5" x2="147.7" y2="795.6" stroke="#666" stroke-width="0.7"/>
<text x="108.5" y="793.4" textLength="39.2" lengthAdjust="spacingAndGlyphs" font-size="9.2" class="gl">ECs4584</text>
<line x1="191.6" y1="780.3" x2="182.1" y2="770.1" stroke="#666" stroke-width="0.7"/>
<text x="141.3" y="769.1" textLength="39.8" lengthAdjust="spacingAndGlyphs" font-size="9.2" class="gl">ECs4585</text>
<line x1="212.0" y1="766.3" x2="206.6" y2="757.4" stroke="#666" stroke-width="0.7"/>
<text x="167.4" y="754.2" textLength="39.8" lengthAdjust="spacingAndGlyphs" font-size="9.2" class="gl">ECs4586</text>
<line x1="229.8" y1="758.3" x2="222.5" y2="748.8" stroke="#666" stroke-width="0.7"/>
<text x="197.3" y="745.3" textLength="39.5" lengthAdjust="spacingAndGlyphs" font-size="9.2" class="gl">ECs4587</text>
<line x1="248.0" y1="751.0" x2="243.2" y2="743.0" stroke="#666" stroke-width="0.7"/>
<text x="233.7" y="736.7" textLength="11.7" lengthAdjust="spacingAndGlyphs" font-size="9.2" class="gl">ler</text>
<line x1="262.3" y1="746.2" x2="267.1" y2="731.2" stroke="#666" stroke-width="0.7"/>
<text x="248.3" y="728.1" textLength="39.5" lengthAdjust="spacingAndGlyphs" font-size="9.2" class="gl">ECs4589</text>
<line x1="302.1" y1="738.2" x2="300.5" y2="724.9" stroke="#666" stroke-width="0.7"/>
<text x="290.0" y="721.4" textLength="23.3" lengthAdjust="spacingAndGlyphs" font-size="9.2" class="gl">espG</text>
<text x="176.3" y="1020.0" textLength="327.9" lengthAdjust="spacingAndGlyphs" font-size="14.2" class="ct">Translated E. coli O157:H7 Sakai LEE genes</text>
<text x="302.7" y="1041.1" textLength="72.6" lengthAdjust="spacingAndGlyphs" font-size="14.2" class="ct">31589 bp</text>
<text x="686.0" y="777.9" font-size="9.4" class="lt" textLength="67.3" lengthAdjust="spacingAndGlyphs">O157:H7 Sakai</text>
<rect x="686.5" y="783.9" width="7.8" height="7.6" fill="#4b2083"/>
<text x="698.3" y="790.5" font-size="7.0" class="li" textLength="46.0" lengthAdjust="spacingAndGlyphs">100% identity</text>
<rect x="686.5" y="795.6" width="7.8" height="7.6" fill="#a08cc3"/>
<text x="698.3" y="802.2" font-size="7.0" class="li" textLength="41.8" lengthAdjust="spacingAndGlyphs">70% identity</text>
<rect x="686.5" y="807.3" width="7.8" height="7.6" fill="#e0e0e0"/>
<text x="698.3" y="813.9" font-size="7.0" class="li" textLength="41.8" lengthAdjust="spacingAndGlyphs">50% identity</text>
<text x="686.0" y="828.5" font-size="9.4" class="lt" textLength="78.3" lengthAdjust="spacingAndGlyphs">O157:H7 EDL933</text>
<rect x="686.5" y="834.5" width="7.8" height="7.6" fill="#7a22e2"/>
<text x="698.3" y="841.1" font-size="7.0" class="li" textLength="46.0" lengthAdjust="spacingAndGlyphs">100% identity</text>
<rect x="686.5" y="846.2" width="7.8" height="7.6" fill="#b492e2"/>
<text x="698.3" y="852.9" font-size="7.0" class="li" textLength="41.8" lengthAdjust="spacingAndGlyphs">70% identity</text>
<rect x="686.5" y="857.9" width="7.8" height="7.6" fill="#e0e0e0"/>
<text x="698.3" y="864.5" font-size="7.0" class="li" textLength="41.8" lengthAdjust="spacingAndGlyphs">50% identity</text>
<text x="686.0" y="879.2" font-size="9.4" class="lt" textLength="77.5" lengthAdjust="spacingAndGlyphs">O157:H7 EC4115</text>
<rect x="686.5" y="885.2" width="7.8" height="7.6" fill="#e020e0"/>
<text x="698.3" y="891.8" font-size="7.0" class="li" textLength="46.0" lengthAdjust="spacingAndGlyphs">100% identity</text>
<rect x="686.5" y="896.9" width="7.8" height="7.6" fill="#e094e0"/>
<text x="698.3" y="903.5" font-size="7.0" class="li" textLength="41.8" lengthAdjust="spacingAndGlyphs">70% identity</text>
<rect x="686.5" y="908.6" width="7.8" height="7.6" fill="#e0e0e0"/>
<text x="698.3" y="915.2" font-size="7.0" class="li" textLength="41.8" lengthAdjust="spacingAndGlyphs">50% identity</text>
<text x="686.0" y="929.8" font-size="9.4" class="lt" textLength="85.3" lengthAdjust="spacingAndGlyphs">O157:H7 TW14359</text>
<rect x="686.5" y="935.8" width="7.8" height="7.6" fill="#7e1a7e"/>
<text x="698.3" y="942.4" font-size="7.0" class="li" textLength="46.0" lengthAdjust="spacingAndGlyphs">100% identity</text>
<rect x="686.5" y="947.5" width="7.8" height="7.6" fill="#b892c0"/>
<text x="698.3" y="954.1" font-size="7.0" class="li" textLength="41.8" lengthAdjust="spacingAndGlyphs">70% identity</text>
<rect x="686.5" y="959.2" width="7.8" height="7.6" fill="#e0e0e0"/>
<text x="698.3" y="965.8" font-size="7.0" class="li" textLength="41.8" lengthAdjust="spacingAndGlyphs">50% identity</text>
<text x="686.0" y="980.5" font-size="9.4" class="lt" textLength="70.0" lengthAdjust="spacingAndGlyphs">O103:H2 12009</text>
<rect x="686.5" y="986.5" width="7.8" height="7.6" fill="#2ab2e2"/>
<text x="698.3" y="993.1" font-size="7.0" class="li" textLength="46.0" lengthAdjust="spacingAndGlyphs">100% identity</text>
<rect x="686.5" y="998.2" width="7.8" height="7.6" fill="#92d2e4"/>
<text x="698.3" y="1004.8" font-size="7.0" class="li" textLength="41.8" lengthAdjust="spacingAndGlyphs">70% identity</text>
<rect x="686.5" y="1009.9" width="7.8" height="7.6" fill="#e0e0e0"/>
<text x="698.3" y="1016.5" font-size="7.0" class="li" textLength="41.8" lengthAdjust="spacingAndGlyphs">50% identity</text>
<text x="686.0" y="1031.2" font-size="9.4" class="lt" textLength="64.9" lengthAdjust="spacingAndGlyphs">O111:H- 11128</text>
<rect x="686.5" y="1037.2" width="7.8" height="7.6" fill="#2222b2"/>
<text x="698.3" y="1043.8" font-size="7.0" class="li" textLength="46.0" lengthAdjust="spacingAndGlyphs">100% identity</text>
<rect x="686.5" y="1048.9" width="7.8" height="7.6" fill="#9292d2"/>
<text x="698.3" y="1055.5" font-size="7.0" class="li" textLength="41.8" lengthAdjust="spacingAndGlyphs">70% identity</text>
<rect x="686.5" y="1060.6" width="7.8" height="7.6" fill="#e0e0e0"/>
<text x="698.3" y="1067.2" font-size="7.0" class="li" textLength="41.8" lengthAdjust="spacingAndGlyphs">50% identity</text>
<text x="686.0" y="1081.8" font-size="9.4" class="lt" textLength="84.9" lengthAdjust="spacingAndGlyphs">O127:H6 E2348/69</text>
<rect x="686.5" y="1087.8" width="7.8" height="7.6" fill="#2ae05a"/>
<text x="698.3" y="1094.4" font-size="7.0" class="li" textLength="46.0" lengthAdjust="spacingAndGlyphs">100% identity</text>
<rect x="686.5" y="1099.5" width="7.8" height="7.6" fill="#92e2a4"/>
<text x="698.3" y="1106.1" font-size="7.0" class="li" textLength="41.8" lengthAdjust="spacingAndGlyphs">70% identity</text>
<rect x="686.5" y="1111.2" width="7.8" height="7.6" fill="#e0e0e0"/>
<text x="698.3" y="1117.8" font-size="7.0" class="li" textLength="41.8" lengthAdjust="spacingAndGlyphs">50% identity</text>
<text x="686.0" y="1132.5" font-size="9.4" class="lt" textLength="72.8" lengthAdjust="spacingAndGlyphs">O55:H7 CB9615</text>
<rect x="686.5" y="1138.5" width="7.8" height="7.6" fill="#1f8050"/>
<text x="698.3" y="1145.0" font-size="7.0" class="li" textLength="46.0" lengthAdjust="spacingAndGlyphs">100% identity</text>
<rect x="686.5" y="1150.2" width="7.8" height="7.6" fill="#92c2aa"/>
<text x="698.3" y="1156.8" font-size="7.0" class="li" textLength="41.8" lengthAdjust="spacingAndGlyphs">70% identity</text>
<rect x="686.5" y="1161.9" width="7.8" height="7.6" fill="#e0e0e0"/>
<text x="698.3" y="1168.5" font-size="7.0" class="li" textLength="41.8" lengthAdjust="spacingAndGlyphs">50% identity</text>
<text x="686.0" y="1183.1" font-size="9.4" class="lt" textLength="93.1" lengthAdjust="spacingAndGlyphs">C. rodentium ICC168</text>
<rect x="686.5" y="1189.1" width="7.8" height="7.6" fill="#8c1e1e"/>
<text x="698.3" y="1195.7" font-size="7.0" class="li" textLength="46.0" lengthAdjust="spacingAndGlyphs">100% identity</text>
<rect x="686.5" y="1200.8" width="7.8" height="7.6" fill="#c49494"/>
<text x="698.3" y="1207.4" font-size="7.0" class="li" textLength="41.8" lengthAdjust="spacingAndGlyphs">70% identity</text>
<rect x="686.5" y="1212.5" width="7.8" height="7.6" fill="#e0e0e0"/>
<text x="698.3" y="1219.1" font-size="7.0" class="li" textLength="41.8" lengthAdjust="spacingAndGlyphs">50% identity</text>
<text x="686.0" y="1233.8" font-size="9.4" class="lt" textLength="58.4" lengthAdjust="spacingAndGlyphs">K12 MG1655</text>
<rect x="686.5" y="1239.8" width="7.8" height="7.6" fill="#e0aa1a"/>
<text x="698.3" y="1246.3" font-size="7.0" class="li" textLength="46.0" lengthAdjust="spacingAndGlyphs">100% identity</text>
<rect x="686.5" y="1251.5" width="7.8" height="7.6" fill="#e4d4a4"/>
<text x="698.3" y="1258.0" font-size="7.0" class="li" textLength="41.8" lengthAdjust="spacingAndGlyphs">70% identity</text>
<rect x="686.5" y="1263.2" width="7.8" height="7.6" fill="#e0e0e0"/>
<text x="698.3" y="1269.8" font-size="7.0" class="li" textLength="41.8" lengthAdjust="spacingAndGlyphs">50% identity</text>
</svg>
</body></html>
